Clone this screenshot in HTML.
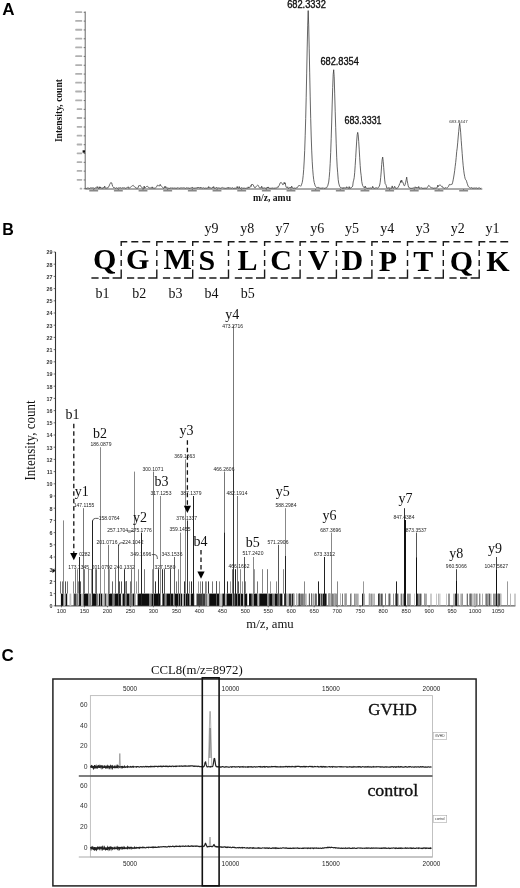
<!DOCTYPE html>
<html><head><meta charset="utf-8"><style>
html,body{margin:0;padding:0;background:#fff;width:520px;height:888px;overflow:hidden}
svg{display:block;filter:grayscale(100%)}
</style></head><body>
<svg width="520" height="888" viewBox="0 0 520 888">
<rect width="520" height="888" fill="#fff"/>
<text x="2.30" y="15.30" font-family="Liberation Sans" font-size="17" text-anchor="start" fill="#000" font-weight="bold" >A</text>
<line x1="85.20" y1="11.50" x2="85.20" y2="189.00" stroke="#666" stroke-width="1.0" />
<line x1="85.20" y1="189.00" x2="482.30" y2="189.00" stroke="#444" stroke-width="0.9" />
<line x1="83.70" y1="12.30" x2="85.20" y2="12.30" stroke="#555" stroke-width="0.8" />
<rect x="75.20" y="11.20" width="7.0" height="1.8" rx="0.6" fill="#b0b0b0"/>
<line x1="83.70" y1="21.12" x2="85.20" y2="21.12" stroke="#555" stroke-width="0.8" />
<rect x="75.20" y="20.02" width="7.0" height="1.8" rx="0.6" fill="#b0b0b0"/>
<line x1="83.70" y1="29.95" x2="85.20" y2="29.95" stroke="#555" stroke-width="0.8" />
<rect x="75.20" y="28.85" width="7.0" height="1.8" rx="0.6" fill="#b0b0b0"/>
<line x1="83.70" y1="38.78" x2="85.20" y2="38.78" stroke="#555" stroke-width="0.8" />
<rect x="75.20" y="37.68" width="7.0" height="1.8" rx="0.6" fill="#b0b0b0"/>
<line x1="83.70" y1="47.60" x2="85.20" y2="47.60" stroke="#555" stroke-width="0.8" />
<rect x="75.20" y="46.50" width="7.0" height="1.8" rx="0.6" fill="#b0b0b0"/>
<line x1="83.70" y1="56.42" x2="85.20" y2="56.42" stroke="#555" stroke-width="0.8" />
<rect x="75.20" y="55.32" width="7.0" height="1.8" rx="0.6" fill="#b0b0b0"/>
<line x1="83.70" y1="65.25" x2="85.20" y2="65.25" stroke="#555" stroke-width="0.8" />
<rect x="75.20" y="64.15" width="7.0" height="1.8" rx="0.6" fill="#b0b0b0"/>
<line x1="83.70" y1="74.08" x2="85.20" y2="74.08" stroke="#555" stroke-width="0.8" />
<rect x="75.20" y="72.98" width="7.0" height="1.8" rx="0.6" fill="#b0b0b0"/>
<line x1="83.70" y1="82.90" x2="85.20" y2="82.90" stroke="#555" stroke-width="0.8" />
<rect x="75.20" y="81.80" width="7.0" height="1.8" rx="0.6" fill="#b0b0b0"/>
<line x1="83.70" y1="91.72" x2="85.20" y2="91.72" stroke="#555" stroke-width="0.8" />
<rect x="75.20" y="90.62" width="7.0" height="1.8" rx="0.6" fill="#b0b0b0"/>
<line x1="83.70" y1="100.55" x2="85.20" y2="100.55" stroke="#555" stroke-width="0.8" />
<rect x="75.20" y="99.45" width="7.0" height="1.8" rx="0.6" fill="#b0b0b0"/>
<line x1="83.70" y1="109.38" x2="85.20" y2="109.38" stroke="#555" stroke-width="0.8" />
<rect x="76.70" y="108.28" width="5.5" height="1.8" rx="0.6" fill="#b0b0b0"/>
<line x1="83.70" y1="118.20" x2="85.20" y2="118.20" stroke="#555" stroke-width="0.8" />
<rect x="76.70" y="117.10" width="5.5" height="1.8" rx="0.6" fill="#b0b0b0"/>
<line x1="83.70" y1="127.02" x2="85.20" y2="127.02" stroke="#555" stroke-width="0.8" />
<rect x="76.70" y="125.92" width="5.5" height="1.8" rx="0.6" fill="#b0b0b0"/>
<line x1="83.70" y1="135.85" x2="85.20" y2="135.85" stroke="#555" stroke-width="0.8" />
<rect x="76.70" y="134.75" width="5.5" height="1.8" rx="0.6" fill="#b0b0b0"/>
<line x1="83.70" y1="144.68" x2="85.20" y2="144.68" stroke="#555" stroke-width="0.8" />
<rect x="76.70" y="143.58" width="5.5" height="1.8" rx="0.6" fill="#b0b0b0"/>
<line x1="83.70" y1="153.50" x2="85.20" y2="153.50" stroke="#555" stroke-width="0.8" />
<rect x="76.70" y="152.40" width="5.5" height="1.8" rx="0.6" fill="#b0b0b0"/>
<line x1="83.70" y1="162.33" x2="85.20" y2="162.33" stroke="#555" stroke-width="0.8" />
<rect x="76.70" y="161.23" width="5.5" height="1.8" rx="0.6" fill="#b0b0b0"/>
<line x1="83.70" y1="171.15" x2="85.20" y2="171.15" stroke="#555" stroke-width="0.8" />
<rect x="76.70" y="170.05" width="5.5" height="1.8" rx="0.6" fill="#b0b0b0"/>
<line x1="83.70" y1="179.98" x2="85.20" y2="179.98" stroke="#555" stroke-width="0.8" />
<rect x="76.70" y="178.88" width="5.5" height="1.8" rx="0.6" fill="#b0b0b0"/>
<line x1="83.70" y1="188.80" x2="85.20" y2="188.80" stroke="#555" stroke-width="0.8" />
<rect x="79.70" y="187.70" width="2.5" height="1.8" rx="0.6" fill="#b0b0b0"/>
<line x1="93.70" y1="189.00" x2="93.70" y2="190.20" stroke="#444" stroke-width="0.6" />
<rect x="89.20" y="190.00" width="9" height="1.6" rx="0.5" fill="#888"/>
<line x1="118.36" y1="189.00" x2="118.36" y2="190.20" stroke="#444" stroke-width="0.6" />
<rect x="113.86" y="190.00" width="9" height="1.6" rx="0.5" fill="#888"/>
<line x1="143.02" y1="189.00" x2="143.02" y2="190.20" stroke="#444" stroke-width="0.6" />
<rect x="138.52" y="190.00" width="9" height="1.6" rx="0.5" fill="#888"/>
<line x1="167.68" y1="189.00" x2="167.68" y2="190.20" stroke="#444" stroke-width="0.6" />
<rect x="163.18" y="190.00" width="9" height="1.6" rx="0.5" fill="#888"/>
<line x1="192.34" y1="189.00" x2="192.34" y2="190.20" stroke="#444" stroke-width="0.6" />
<rect x="187.84" y="190.00" width="9" height="1.6" rx="0.5" fill="#888"/>
<line x1="217.00" y1="189.00" x2="217.00" y2="190.20" stroke="#444" stroke-width="0.6" />
<rect x="212.50" y="190.00" width="9" height="1.6" rx="0.5" fill="#888"/>
<line x1="241.66" y1="189.00" x2="241.66" y2="190.20" stroke="#444" stroke-width="0.6" />
<rect x="237.16" y="190.00" width="9" height="1.6" rx="0.5" fill="#888"/>
<line x1="266.32" y1="189.00" x2="266.32" y2="190.20" stroke="#444" stroke-width="0.6" />
<rect x="261.82" y="190.00" width="9" height="1.6" rx="0.5" fill="#888"/>
<line x1="290.98" y1="189.00" x2="290.98" y2="190.20" stroke="#444" stroke-width="0.6" />
<rect x="286.48" y="190.00" width="9" height="1.6" rx="0.5" fill="#888"/>
<line x1="315.64" y1="189.00" x2="315.64" y2="190.20" stroke="#444" stroke-width="0.6" />
<rect x="311.14" y="190.00" width="9" height="1.6" rx="0.5" fill="#888"/>
<line x1="340.30" y1="189.00" x2="340.30" y2="190.20" stroke="#444" stroke-width="0.6" />
<rect x="335.80" y="190.00" width="9" height="1.6" rx="0.5" fill="#888"/>
<line x1="364.96" y1="189.00" x2="364.96" y2="190.20" stroke="#444" stroke-width="0.6" />
<rect x="360.46" y="190.00" width="9" height="1.6" rx="0.5" fill="#888"/>
<line x1="389.62" y1="189.00" x2="389.62" y2="190.20" stroke="#444" stroke-width="0.6" />
<rect x="385.12" y="190.00" width="9" height="1.6" rx="0.5" fill="#888"/>
<line x1="414.28" y1="189.00" x2="414.28" y2="190.20" stroke="#444" stroke-width="0.6" />
<rect x="409.78" y="190.00" width="9" height="1.6" rx="0.5" fill="#888"/>
<line x1="438.94" y1="189.00" x2="438.94" y2="190.20" stroke="#444" stroke-width="0.6" />
<rect x="434.44" y="190.00" width="9" height="1.6" rx="0.5" fill="#888"/>
<line x1="463.60" y1="189.00" x2="463.60" y2="190.20" stroke="#444" stroke-width="0.6" />
<rect x="459.10" y="190.00" width="9" height="1.6" rx="0.5" fill="#888"/>
<rect x="82.6" y="150.3" width="2.4" height="2.4" fill="#111"/>
<text x="0" y="0" transform="translate(62.0,110.6) rotate(-90)" font-family="Liberation Serif" font-size="10.3" font-weight="bold" text-anchor="middle" fill="#111" textLength="63" lengthAdjust="spacingAndGlyphs">Intensity, count</text>
<text x="272.00" y="201.00" font-family="Liberation Serif" font-size="11" text-anchor="middle" fill="#111" font-weight="bold" textLength="38" lengthAdjust="spacingAndGlyphs" >m/z, amu</text>
<path d="M85.70,188.17 L86.20,188.35 L86.70,188.36 L87.20,187.92 L87.70,188.10 L88.20,188.24 L88.70,188.00 L89.20,188.37 L89.70,188.30 L90.20,187.83 L90.70,187.95 L91.20,187.94 L91.70,187.92 L92.20,187.99 L92.70,187.84 L93.20,188.00 L93.70,187.89 L94.20,188.32 L94.70,188.29 L95.20,187.93 L95.70,187.79 L96.20,187.98 L96.70,187.81 L97.20,186.53 L97.70,187.95 L98.20,188.20 L98.70,188.38 L99.20,186.78 L99.70,188.31 L100.20,186.89 L100.70,188.02 L101.20,187.80 L101.70,188.15 L102.20,188.29 L102.70,188.24 L103.20,187.38 L103.70,188.14 L104.20,187.92 L104.70,186.13 L105.20,187.85 L105.70,188.12 L106.20,187.81 L106.70,188.22 L107.20,187.95 L107.70,188.03 L108.20,187.08 L108.70,186.81 L109.20,185.88 L109.70,184.44 L110.20,183.65 L110.70,182.64 L111.20,182.77 L111.70,182.87 L112.20,184.80 L112.70,186.43 L113.20,186.91 L113.70,187.74 L114.20,187.54 L114.70,187.77 L115.20,188.02 L115.70,188.38 L116.20,187.91 L116.70,187.74 L117.20,188.14 L117.70,188.26 L118.20,187.77 L118.70,187.94 L119.20,187.94 L119.70,187.87 L120.20,187.85 L120.70,187.72 L121.20,187.74 L121.70,188.31 L122.20,187.84 L122.70,187.71 L123.20,188.02 L123.70,187.72 L124.20,187.75 L124.70,187.82 L125.20,188.19 L125.70,188.22 L126.20,187.76 L126.70,187.99 L127.20,187.76 L127.70,187.15 L128.20,186.66 L128.70,188.24 L129.20,187.91 L129.70,187.79 L130.20,187.57 L130.70,187.09 L131.20,186.65 L131.70,186.25 L132.20,185.75 L132.70,185.61 L133.20,185.31 L133.70,185.77 L134.20,186.49 L134.70,187.03 L135.20,187.08 L135.70,187.80 L136.20,188.04 L136.70,188.12 L137.20,187.96 L137.70,188.09 L138.20,187.66 L138.70,185.71 L139.20,185.61 L139.70,185.57 L140.20,185.26 L140.70,186.37 L141.20,186.64 L141.70,187.52 L142.20,188.00 L142.70,187.94 L143.20,188.34 L143.70,188.34 L144.20,186.09 L144.70,188.21 L145.20,187.77 L145.70,187.35 L146.20,186.78 L146.70,186.45 L147.20,186.23 L147.70,186.48 L148.20,187.41 L148.70,187.42 L149.20,187.89 L149.70,187.77 L150.20,187.80 L150.70,187.92 L151.20,187.82 L151.70,188.12 L152.20,186.83 L152.70,188.22 L153.20,187.81 L153.70,188.20 L154.20,188.06 L154.70,188.16 L155.20,187.85 L155.70,187.79 L156.20,187.32 L156.70,186.87 L157.20,185.41 L157.70,185.33 L158.20,185.73 L158.70,185.62 L159.20,185.87 L159.70,185.94 L160.20,184.36 L160.70,185.66 L161.20,185.80 L161.70,186.46 L162.20,186.84 L162.70,187.45 L163.20,188.20 L163.70,188.27 L164.20,187.95 L164.70,186.46 L165.20,187.88 L165.70,186.46 L166.20,187.69 L166.70,187.89 L167.20,187.72 L167.70,188.06 L168.20,187.97 L168.70,188.30 L169.20,188.19 L169.70,188.36 L170.20,187.92 L170.70,188.04 L171.20,188.32 L171.70,187.72 L172.20,188.08 L172.70,188.09 L173.20,187.74 L173.70,188.30 L174.20,188.31 L174.70,187.78 L175.20,187.77 L175.70,188.40 L176.20,188.19 L176.70,188.18 L177.20,187.87 L177.70,187.75 L178.20,188.20 L178.70,187.70 L179.20,188.10 L179.70,188.33 L180.20,187.75 L180.70,188.04 L181.20,187.73 L181.70,187.96 L182.20,188.02 L182.70,187.89 L183.20,187.95 L183.70,187.75 L184.20,188.16 L184.70,187.72 L185.20,188.19 L185.70,188.28 L186.20,187.77 L186.70,187.77 L187.20,188.30 L187.70,187.68 L188.20,188.22 L188.70,187.88 L189.20,188.03 L189.70,188.36 L190.20,188.31 L190.70,187.80 L191.20,188.23 L191.70,187.73 L192.20,186.97 L192.70,187.77 L193.20,188.40 L193.70,187.82 L194.20,188.23 L194.70,188.03 L195.20,187.89 L195.70,188.08 L196.20,187.85 L196.70,187.95 L197.20,188.22 L197.70,187.27 L198.20,187.99 L198.70,187.38 L199.20,188.08 L199.70,187.78 L200.20,188.23 L200.70,187.19 L201.20,187.93 L201.70,187.93 L202.20,188.38 L202.70,187.92 L203.20,187.88 L203.70,187.72 L204.20,188.24 L204.70,188.19 L205.20,188.27 L205.70,187.93 L206.20,188.12 L206.70,188.18 L207.20,188.12 L207.70,187.89 L208.20,188.17 L208.70,186.55 L209.20,188.13 L209.70,187.72 L210.20,188.15 L210.70,187.73 L211.20,187.82 L211.70,188.37 L212.20,187.76 L212.70,186.95 L213.20,187.83 L213.70,186.54 L214.20,188.22 L214.70,188.16 L215.20,187.97 L215.70,188.18 L216.20,187.87 L216.70,187.27 L217.20,188.07 L217.70,188.13 L218.20,188.05 L218.70,187.84 L219.20,187.86 L219.70,188.18 L220.20,188.34 L220.70,188.16 L221.20,188.01 L221.70,187.78 L222.20,187.34 L222.70,187.90 L223.20,188.11 L223.70,187.88 L224.20,188.32 L224.70,188.00 L225.20,188.26 L225.70,188.29 L226.20,188.17 L226.70,188.04 L227.20,187.94 L227.70,188.07 L228.20,187.17 L228.70,188.32 L229.20,187.99 L229.70,187.79 L230.20,187.86 L230.70,187.98 L231.20,188.14 L231.70,188.22 L232.20,187.60 L232.70,187.93 L233.20,188.26 L233.70,188.36 L234.20,188.01 L234.70,188.29 L235.20,188.20 L235.70,188.18 L236.20,188.11 L236.70,188.15 L237.20,186.45 L237.70,188.10 L238.20,187.78 L238.70,188.39 L239.20,186.52 L239.70,188.14 L240.20,188.20 L240.70,188.32 L241.20,187.72 L241.70,187.74 L242.20,188.36 L242.70,187.77 L243.20,188.29 L243.70,188.12 L244.20,188.27 L244.70,188.04 L245.20,188.23 L245.70,188.37 L246.20,188.37 L246.70,187.98 L247.20,188.19 L247.70,188.10 L248.20,186.85 L248.70,188.03 L249.20,187.77 L249.70,187.84 L250.20,186.66 L250.70,185.63 L251.20,186.40 L251.70,184.23 L252.20,184.74 L252.70,184.35 L253.20,184.88 L253.70,185.93 L254.20,186.99 L254.70,187.64 L255.20,187.80 L255.70,187.14 L256.20,186.44 L256.70,185.86 L257.20,185.40 L257.70,184.98 L258.20,185.50 L258.70,186.49 L259.20,187.30 L259.70,188.06 L260.20,188.05 L260.70,187.69 L261.20,187.86 L261.70,186.24 L262.20,188.22 L262.70,187.99 L263.20,188.10 L263.70,187.97 L264.20,187.77 L264.70,187.94 L265.20,188.15 L265.70,188.24 L266.20,188.26 L266.70,188.31 L267.20,187.02 L267.70,187.79 L268.20,186.93 L268.70,188.01 L269.20,188.09 L269.70,188.23 L270.20,188.03 L270.70,188.36 L271.20,188.01 L271.70,188.26 L272.20,187.95 L272.70,188.18 L273.20,187.78 L273.70,188.40 L274.20,188.07 L274.70,188.24 L275.20,188.37 L275.70,187.90 L276.20,188.18 L276.70,187.76 L277.20,187.73 L277.70,186.77 L278.20,187.27 L278.70,186.18 L279.20,185.49 L279.70,184.18 L280.20,182.94 L280.70,182.52 L281.20,182.42 L281.70,183.24 L282.20,183.48 L282.70,184.64 L283.20,184.62 L283.70,183.92 L284.20,182.31 L284.70,183.96 L285.20,182.80 L285.70,185.77 L286.20,187.30 L286.70,187.45 L287.20,187.72 L287.70,186.79 L288.20,188.25 L288.70,188.38 L289.20,187.90 L289.70,187.73 L290.20,187.14 L290.70,188.09 L291.20,187.91 L291.70,186.16 L292.20,187.88 L292.70,187.87 L293.20,188.06 L293.70,188.27 L294.20,187.82 L294.70,188.20 L295.20,188.05 L295.70,188.33 L296.20,187.79 L296.70,187.92 L297.20,187.81 L297.70,187.12 L298.20,186.13 L298.70,185.67 L299.20,185.12 L299.70,185.68 L300.20,185.74 L300.70,186.29 L301.20,185.52 L301.70,184.15 L302.20,182.62 L302.70,179.81 L303.20,175.46 L303.70,169.48 L304.20,160.99 L304.70,150.45 L305.20,135.75 L305.70,118.43 L306.20,97.23 L306.70,73.13 L307.20,47.98 L307.70,25.18 L308.20,10.58 L308.70,24.87 L309.20,48.17 L309.70,72.87 L310.20,96.90 L310.70,118.34 L311.20,136.01 L311.70,150.08 L312.20,161.18 L312.70,169.24 L313.20,175.23 L313.70,179.58 L314.20,182.47 L314.70,184.17 L315.20,185.74 L315.70,186.64 L316.20,187.18 L316.70,187.74 L317.20,187.56 L317.70,187.42 L318.20,187.18 L318.70,188.05 L319.20,188.18 L319.70,187.72 L320.20,187.83 L320.70,188.30 L321.20,187.95 L321.70,188.24 L322.20,187.95 L322.70,188.07 L323.20,188.31 L323.70,187.80 L324.20,188.21 L324.70,188.36 L325.20,188.15 L325.70,187.94 L326.20,187.83 L326.70,187.75 L327.20,186.70 L327.70,185.84 L328.20,184.05 L328.70,182.08 L329.20,177.63 L329.70,171.65 L330.20,163.35 L330.70,152.40 L331.20,138.29 L331.70,122.06 L332.20,104.07 L332.70,87.52 L333.20,74.40 L333.70,69.72 L334.20,76.77 L334.70,93.90 L335.20,111.24 L335.70,127.30 L336.20,143.14 L336.70,157.19 L337.20,166.93 L337.70,172.83 L338.20,179.52 L338.70,183.06 L339.20,184.91 L339.70,186.45 L340.20,187.30 L340.70,187.58 L341.20,187.48 L341.70,188.05 L342.20,187.93 L342.70,188.35 L343.20,187.41 L343.70,188.39 L344.20,187.97 L344.70,187.76 L345.20,187.96 L345.70,187.92 L346.20,188.08 L346.70,186.72 L347.20,187.76 L347.70,187.82 L348.20,188.22 L348.70,188.17 L349.20,186.60 L349.70,188.34 L350.20,187.92 L350.70,188.22 L351.20,187.40 L351.70,187.43 L352.20,186.96 L352.70,186.05 L353.20,181.93 L353.70,180.18 L354.20,177.71 L354.70,172.60 L355.20,165.35 L355.70,157.62 L356.20,148.93 L356.70,141.03 L357.20,134.88 L357.70,132.38 L358.20,134.73 L358.70,141.30 L359.20,149.11 L359.70,157.81 L360.20,165.66 L360.70,171.98 L361.20,175.73 L361.70,181.22 L362.20,183.92 L362.70,185.64 L363.20,186.48 L363.70,187.29 L364.20,187.33 L364.70,187.94 L365.20,186.03 L365.70,187.80 L366.20,188.19 L366.70,187.91 L367.20,188.34 L367.70,188.26 L368.20,188.24 L368.70,188.07 L369.20,187.87 L369.70,188.34 L370.20,188.24 L370.70,187.78 L371.20,187.99 L371.70,188.27 L372.20,188.00 L372.70,186.30 L373.20,188.14 L373.70,187.85 L374.20,188.16 L374.70,188.38 L375.20,188.06 L375.70,187.85 L376.20,187.86 L376.70,187.81 L377.20,188.15 L377.70,187.94 L378.20,187.53 L378.70,187.42 L379.20,186.38 L379.70,185.01 L380.20,182.32 L380.70,177.40 L381.20,171.94 L381.70,164.49 L382.20,159.36 L382.70,157.12 L383.20,161.30 L383.70,167.38 L384.20,174.04 L384.70,179.91 L385.20,183.80 L385.70,184.31 L386.20,185.45 L386.70,187.86 L387.20,187.64 L387.70,188.29 L388.20,187.95 L388.70,187.82 L389.20,188.30 L389.70,187.90 L390.20,187.79 L390.70,188.29 L391.20,188.17 L391.70,188.18 L392.20,185.92 L392.70,187.93 L393.20,188.20 L393.70,188.15 L394.20,187.17 L394.70,186.32 L395.20,188.19 L395.70,187.83 L396.20,188.39 L396.70,188.23 L397.20,188.10 L397.70,187.88 L398.20,187.16 L398.70,186.14 L399.20,185.21 L399.70,183.55 L400.20,183.18 L400.70,180.68 L401.20,182.38 L401.70,180.12 L402.20,181.59 L402.70,181.97 L403.20,183.08 L403.70,184.81 L404.20,185.72 L404.70,185.60 L405.20,184.28 L405.70,182.29 L406.20,179.73 L406.70,177.13 L407.20,180.73 L407.70,183.31 L408.20,185.83 L408.70,187.40 L409.20,187.73 L409.70,187.72 L410.20,188.30 L410.70,188.20 L411.20,188.30 L411.70,188.30 L412.20,188.28 L412.70,188.13 L413.20,188.03 L413.70,187.86 L414.20,188.17 L414.70,187.84 L415.20,186.77 L415.70,187.73 L416.20,188.10 L416.70,187.16 L417.20,187.77 L417.70,187.72 L418.20,187.96 L418.70,186.50 L419.20,188.21 L419.70,188.02 L420.20,188.22 L420.70,187.73 L421.20,187.95 L421.70,187.73 L422.20,188.07 L422.70,188.31 L423.20,188.12 L423.70,188.34 L424.20,187.97 L424.70,188.26 L425.20,188.01 L425.70,188.17 L426.20,187.99 L426.70,188.21 L427.20,187.74 L427.70,187.13 L428.20,186.04 L428.70,185.40 L429.20,185.68 L429.70,186.37 L430.20,186.67 L430.70,187.56 L431.20,187.58 L431.70,187.82 L432.20,188.05 L432.70,187.76 L433.20,188.40 L433.70,188.05 L434.20,188.11 L434.70,187.97 L435.20,188.06 L435.70,188.08 L436.20,188.05 L436.70,187.78 L437.20,187.66 L437.70,185.23 L438.20,186.71 L438.70,185.67 L439.20,185.07 L439.70,185.06 L440.20,184.89 L440.70,185.35 L441.20,185.95 L441.70,186.58 L442.20,186.26 L442.70,187.52 L443.20,187.47 L443.70,187.95 L444.20,188.10 L444.70,188.25 L445.20,187.80 L445.70,187.75 L446.20,187.66 L446.70,188.18 L447.20,187.79 L447.70,187.39 L448.20,186.60 L448.70,186.24 L449.20,184.60 L449.70,184.45 L450.20,184.60 L450.70,184.61 L451.20,184.23 L451.70,184.69 L452.20,183.97 L452.70,182.23 L453.20,179.83 L453.70,177.05 L454.20,173.98 L454.70,170.42 L455.20,166.28 L455.70,162.38 L456.20,157.50 L456.70,151.63 L457.20,148.17 L457.70,142.83 L458.20,136.97 L458.70,131.65 L459.20,126.47 L459.70,123.26 L460.20,127.28 L460.70,132.81 L461.20,140.32 L461.70,146.90 L462.20,153.57 L462.70,160.16 L463.20,165.70 L463.70,170.24 L464.20,173.93 L464.70,176.65 L465.20,178.74 L465.70,179.76 L466.20,180.26 L466.70,181.77 L467.20,183.42 L467.70,184.92 L468.20,186.30 L468.70,186.90 L469.20,187.17 L469.70,187.56 L470.20,188.05 L470.70,187.98 L471.20,187.88 L471.70,187.48 L472.20,188.18 L472.70,188.17 L473.20,187.83 L473.70,188.29 L474.20,187.91 L474.70,188.10 L475.20,188.22 L475.70,187.96 L476.20,187.76 L476.70,188.05 L477.20,188.26 L477.70,188.37 L478.20,188.27 L478.70,187.90 L479.20,187.92 L479.70,187.82 L480.20,188.37 L480.70,188.37 L481.20,187.85" fill="none" stroke="#333" stroke-width="0.75" stroke-linejoin="round"/>
<text x="306.50" y="7.60" font-family="Liberation Sans" font-size="10" text-anchor="middle" fill="#111" textLength="38.7" lengthAdjust="spacingAndGlyphs" stroke="#111" stroke-width="0.35">682.3332</text>
<text x="339.60" y="64.60" font-family="Liberation Sans" font-size="10" text-anchor="middle" fill="#111" textLength="38.4" lengthAdjust="spacingAndGlyphs" stroke="#111" stroke-width="0.35">682.8354</text>
<text x="363.00" y="123.50" font-family="Liberation Sans" font-size="10" text-anchor="middle" fill="#111" textLength="37" lengthAdjust="spacingAndGlyphs" stroke="#111" stroke-width="0.35">683.3331</text>
<text x="458.40" y="123.00" font-family="Liberation Sans" font-size="3.2" text-anchor="middle" fill="#333" textLength="18.5" lengthAdjust="spacingAndGlyphs" >683.8447</text>
<text x="2.30" y="234.60" font-family="Liberation Sans" font-size="16" text-anchor="start" fill="#000" font-weight="bold" >B</text>
<path d="M91.40,278.0 L121.20,278.0 L121.20,241.8 L150.20,241.8" fill="none" stroke="#1a1a1a" stroke-width="1.4" stroke-dasharray="7.2,3.4,7.2,3.4,17.1,3.5,6,4,6,4,10.3,4,7,4,8,100"/>
<path d="M127.00,278.0 L156.80,278.0 L156.80,241.8 L185.80,241.8" fill="none" stroke="#1a1a1a" stroke-width="1.4" stroke-dasharray="7.2,3.4,7.2,3.4,17.1,3.5,6,4,6,4,10.3,4,7,4,8,100"/>
<path d="M162.90,278.0 L192.70,278.0 L192.70,241.8 L221.70,241.8" fill="none" stroke="#1a1a1a" stroke-width="1.4" stroke-dasharray="7.2,3.4,7.2,3.4,17.1,3.5,6,4,6,4,10.3,4,7,4,8,100"/>
<path d="M198.70,278.0 L228.50,278.0 L228.50,241.8 L257.50,241.8" fill="none" stroke="#1a1a1a" stroke-width="1.4" stroke-dasharray="7.2,3.4,7.2,3.4,17.1,3.5,6,4,6,4,10.3,4,7,4,8,100"/>
<path d="M234.80,278.0 L264.60,278.0 L264.60,241.8 L293.60,241.8" fill="none" stroke="#1a1a1a" stroke-width="1.4" stroke-dasharray="7.2,3.4,7.2,3.4,17.1,3.5,6,4,6,4,10.3,4,7,4,8,100"/>
<path d="M270.30,278.0 L300.10,278.0 L300.10,241.8 L329.10,241.8" fill="none" stroke="#1a1a1a" stroke-width="1.4" stroke-dasharray="7.2,3.4,7.2,3.4,17.1,3.5,6,4,6,4,10.3,4,7,4,8,100"/>
<path d="M306.60,278.0 L336.40,278.0 L336.40,241.8 L365.40,241.8" fill="none" stroke="#1a1a1a" stroke-width="1.4" stroke-dasharray="7.2,3.4,7.2,3.4,17.1,3.5,6,4,6,4,10.3,4,7,4,8,100"/>
<path d="M342.10,278.0 L371.90,278.0 L371.90,241.8 L400.90,241.8" fill="none" stroke="#1a1a1a" stroke-width="1.4" stroke-dasharray="7.2,3.4,7.2,3.4,17.1,3.5,6,4,6,4,10.3,4,7,4,8,100"/>
<path d="M377.70,278.0 L407.50,278.0 L407.50,241.8 L436.50,241.8" fill="none" stroke="#1a1a1a" stroke-width="1.4" stroke-dasharray="7.2,3.4,7.2,3.4,17.1,3.5,6,4,6,4,10.3,4,7,4,8,100"/>
<path d="M413.50,278.0 L443.30,278.0 L443.30,241.8 L472.30,241.8" fill="none" stroke="#1a1a1a" stroke-width="1.4" stroke-dasharray="7.2,3.4,7.2,3.4,17.1,3.5,6,4,6,4,10.3,4,7,4,8,100"/>
<path d="M449.40,278.0 L479.20,278.0 L479.20,241.8 L508.20,241.8" fill="none" stroke="#1a1a1a" stroke-width="1.4" stroke-dasharray="7.2,3.4,7.2,3.4,17.1,3.5,6,4,6,4,10.3,4,7,4,8,100"/>
<text x="104.70" y="268.90" font-family="Liberation Serif" font-size="30" text-anchor="middle" fill="#000" font-weight="bold" >Q</text>
<text x="137.70" y="269.10" font-family="Liberation Serif" font-size="30" text-anchor="middle" fill="#000" font-weight="bold" >G</text>
<text x="177.70" y="269.30" font-family="Liberation Serif" font-size="30" text-anchor="middle" fill="#000" font-weight="bold" >M</text>
<text x="206.90" y="269.50" font-family="Liberation Serif" font-size="30" text-anchor="middle" fill="#000" font-weight="bold" >S</text>
<text x="247.60" y="269.70" font-family="Liberation Serif" font-size="30" text-anchor="middle" fill="#000" font-weight="bold" >L</text>
<text x="281.20" y="269.90" font-family="Liberation Serif" font-size="30" text-anchor="middle" fill="#000" font-weight="bold" >C</text>
<text x="318.60" y="270.10" font-family="Liberation Serif" font-size="30" text-anchor="middle" fill="#000" font-weight="bold" >V</text>
<text x="352.30" y="270.30" font-family="Liberation Serif" font-size="30" text-anchor="middle" fill="#000" font-weight="bold" >D</text>
<text x="387.90" y="270.50" font-family="Liberation Serif" font-size="30" text-anchor="middle" fill="#000" font-weight="bold" >P</text>
<text x="423.30" y="270.70" font-family="Liberation Serif" font-size="30" text-anchor="middle" fill="#000" font-weight="bold" >T</text>
<text x="461.30" y="270.90" font-family="Liberation Serif" font-size="30" text-anchor="middle" fill="#000" font-weight="bold" >Q</text>
<text x="497.80" y="271.10" font-family="Liberation Serif" font-size="30" text-anchor="middle" fill="#000" font-weight="bold" >K</text>
<text x="211.40" y="232.60" font-family="Liberation Serif" font-size="14" text-anchor="middle" fill="#111" >y9</text>
<text x="247.30" y="232.60" font-family="Liberation Serif" font-size="14" text-anchor="middle" fill="#111" >y8</text>
<text x="282.50" y="232.60" font-family="Liberation Serif" font-size="14" text-anchor="middle" fill="#111" >y7</text>
<text x="317.30" y="232.60" font-family="Liberation Serif" font-size="14" text-anchor="middle" fill="#111" >y6</text>
<text x="352.00" y="232.60" font-family="Liberation Serif" font-size="14" text-anchor="middle" fill="#111" >y5</text>
<text x="387.20" y="232.60" font-family="Liberation Serif" font-size="14" text-anchor="middle" fill="#111" >y4</text>
<text x="422.80" y="232.60" font-family="Liberation Serif" font-size="14" text-anchor="middle" fill="#111" >y3</text>
<text x="457.70" y="232.60" font-family="Liberation Serif" font-size="14" text-anchor="middle" fill="#111" >y2</text>
<text x="492.60" y="232.60" font-family="Liberation Serif" font-size="14" text-anchor="middle" fill="#111" >y1</text>
<text x="102.60" y="297.80" font-family="Liberation Serif" font-size="14" text-anchor="middle" fill="#111" >b1</text>
<text x="139.30" y="297.80" font-family="Liberation Serif" font-size="14" text-anchor="middle" fill="#111" >b2</text>
<text x="175.40" y="297.80" font-family="Liberation Serif" font-size="14" text-anchor="middle" fill="#111" >b3</text>
<text x="211.40" y="297.80" font-family="Liberation Serif" font-size="14" text-anchor="middle" fill="#111" >b4</text>
<text x="247.70" y="297.80" font-family="Liberation Serif" font-size="14" text-anchor="middle" fill="#111" >b5</text>
<line x1="55.50" y1="252.00" x2="55.50" y2="606.30" stroke="#333" stroke-width="1.1" />
<line x1="55.50" y1="605.90" x2="515.40" y2="605.90" stroke="#333" stroke-width="1.0" />
<line x1="53.70" y1="605.80" x2="55.50" y2="605.80" stroke="#333" stroke-width="0.7" />
<text x="52.40" y="608.10" font-family="Liberation Sans" font-size="5.4" text-anchor="end" fill="#333" font-weight="bold" >0</text>
<line x1="53.70" y1="593.60" x2="55.50" y2="593.60" stroke="#333" stroke-width="0.7" />
<text x="52.40" y="595.90" font-family="Liberation Sans" font-size="5.4" text-anchor="end" fill="#333" font-weight="bold" >1</text>
<line x1="53.70" y1="581.40" x2="55.50" y2="581.40" stroke="#333" stroke-width="0.7" />
<text x="52.40" y="583.70" font-family="Liberation Sans" font-size="5.4" text-anchor="end" fill="#333" font-weight="bold" >2</text>
<line x1="53.70" y1="569.20" x2="55.50" y2="569.20" stroke="#333" stroke-width="0.7" />
<text x="52.40" y="571.50" font-family="Liberation Sans" font-size="5.4" text-anchor="end" fill="#333" font-weight="bold" >3</text>
<line x1="53.70" y1="557.00" x2="55.50" y2="557.00" stroke="#333" stroke-width="0.7" />
<text x="52.40" y="559.30" font-family="Liberation Sans" font-size="5.4" text-anchor="end" fill="#333" font-weight="bold" >4</text>
<line x1="53.70" y1="544.80" x2="55.50" y2="544.80" stroke="#333" stroke-width="0.7" />
<text x="52.40" y="547.10" font-family="Liberation Sans" font-size="5.4" text-anchor="end" fill="#333" font-weight="bold" >5</text>
<line x1="53.70" y1="532.60" x2="55.50" y2="532.60" stroke="#333" stroke-width="0.7" />
<text x="52.40" y="534.90" font-family="Liberation Sans" font-size="5.4" text-anchor="end" fill="#333" font-weight="bold" >6</text>
<line x1="53.70" y1="520.40" x2="55.50" y2="520.40" stroke="#333" stroke-width="0.7" />
<text x="52.40" y="522.70" font-family="Liberation Sans" font-size="5.4" text-anchor="end" fill="#333" font-weight="bold" >7</text>
<line x1="53.70" y1="508.20" x2="55.50" y2="508.20" stroke="#333" stroke-width="0.7" />
<text x="52.40" y="510.50" font-family="Liberation Sans" font-size="5.4" text-anchor="end" fill="#333" font-weight="bold" >8</text>
<line x1="53.70" y1="496.00" x2="55.50" y2="496.00" stroke="#333" stroke-width="0.7" />
<text x="52.40" y="498.30" font-family="Liberation Sans" font-size="5.4" text-anchor="end" fill="#333" font-weight="bold" >9</text>
<line x1="53.70" y1="483.80" x2="55.50" y2="483.80" stroke="#333" stroke-width="0.7" />
<text x="52.40" y="486.10" font-family="Liberation Sans" font-size="5.4" text-anchor="end" fill="#333" font-weight="bold" >10</text>
<line x1="53.70" y1="471.60" x2="55.50" y2="471.60" stroke="#333" stroke-width="0.7" />
<text x="52.40" y="473.90" font-family="Liberation Sans" font-size="5.4" text-anchor="end" fill="#333" font-weight="bold" >11</text>
<line x1="53.70" y1="459.40" x2="55.50" y2="459.40" stroke="#333" stroke-width="0.7" />
<text x="52.40" y="461.70" font-family="Liberation Sans" font-size="5.4" text-anchor="end" fill="#333" font-weight="bold" >12</text>
<line x1="53.70" y1="447.20" x2="55.50" y2="447.20" stroke="#333" stroke-width="0.7" />
<text x="52.40" y="449.50" font-family="Liberation Sans" font-size="5.4" text-anchor="end" fill="#333" font-weight="bold" >13</text>
<line x1="53.70" y1="435.00" x2="55.50" y2="435.00" stroke="#333" stroke-width="0.7" />
<text x="52.40" y="437.30" font-family="Liberation Sans" font-size="5.4" text-anchor="end" fill="#333" font-weight="bold" >14</text>
<line x1="53.70" y1="422.80" x2="55.50" y2="422.80" stroke="#333" stroke-width="0.7" />
<text x="52.40" y="425.10" font-family="Liberation Sans" font-size="5.4" text-anchor="end" fill="#333" font-weight="bold" >15</text>
<line x1="53.70" y1="410.60" x2="55.50" y2="410.60" stroke="#333" stroke-width="0.7" />
<text x="52.40" y="412.90" font-family="Liberation Sans" font-size="5.4" text-anchor="end" fill="#333" font-weight="bold" >16</text>
<line x1="53.70" y1="398.40" x2="55.50" y2="398.40" stroke="#333" stroke-width="0.7" />
<text x="52.40" y="400.70" font-family="Liberation Sans" font-size="5.4" text-anchor="end" fill="#333" font-weight="bold" >17</text>
<line x1="53.70" y1="386.20" x2="55.50" y2="386.20" stroke="#333" stroke-width="0.7" />
<text x="52.40" y="388.50" font-family="Liberation Sans" font-size="5.4" text-anchor="end" fill="#333" font-weight="bold" >18</text>
<line x1="53.70" y1="374.00" x2="55.50" y2="374.00" stroke="#333" stroke-width="0.7" />
<text x="52.40" y="376.30" font-family="Liberation Sans" font-size="5.4" text-anchor="end" fill="#333" font-weight="bold" >19</text>
<line x1="53.70" y1="361.80" x2="55.50" y2="361.80" stroke="#333" stroke-width="0.7" />
<text x="52.40" y="364.10" font-family="Liberation Sans" font-size="5.4" text-anchor="end" fill="#333" font-weight="bold" >20</text>
<line x1="53.70" y1="349.60" x2="55.50" y2="349.60" stroke="#333" stroke-width="0.7" />
<text x="52.40" y="351.90" font-family="Liberation Sans" font-size="5.4" text-anchor="end" fill="#333" font-weight="bold" >21</text>
<line x1="53.70" y1="337.40" x2="55.50" y2="337.40" stroke="#333" stroke-width="0.7" />
<text x="52.40" y="339.70" font-family="Liberation Sans" font-size="5.4" text-anchor="end" fill="#333" font-weight="bold" >22</text>
<line x1="53.70" y1="325.20" x2="55.50" y2="325.20" stroke="#333" stroke-width="0.7" />
<text x="52.40" y="327.50" font-family="Liberation Sans" font-size="5.4" text-anchor="end" fill="#333" font-weight="bold" >23</text>
<line x1="53.70" y1="313.00" x2="55.50" y2="313.00" stroke="#333" stroke-width="0.7" />
<text x="52.40" y="315.30" font-family="Liberation Sans" font-size="5.4" text-anchor="end" fill="#333" font-weight="bold" >24</text>
<line x1="53.70" y1="300.80" x2="55.50" y2="300.80" stroke="#333" stroke-width="0.7" />
<text x="52.40" y="303.10" font-family="Liberation Sans" font-size="5.4" text-anchor="end" fill="#333" font-weight="bold" >25</text>
<line x1="53.70" y1="288.60" x2="55.50" y2="288.60" stroke="#333" stroke-width="0.7" />
<text x="52.40" y="290.90" font-family="Liberation Sans" font-size="5.4" text-anchor="end" fill="#333" font-weight="bold" >26</text>
<line x1="53.70" y1="276.40" x2="55.50" y2="276.40" stroke="#333" stroke-width="0.7" />
<text x="52.40" y="278.70" font-family="Liberation Sans" font-size="5.4" text-anchor="end" fill="#333" font-weight="bold" >27</text>
<line x1="53.70" y1="264.20" x2="55.50" y2="264.20" stroke="#333" stroke-width="0.7" />
<text x="52.40" y="266.50" font-family="Liberation Sans" font-size="5.4" text-anchor="end" fill="#333" font-weight="bold" >28</text>
<line x1="53.70" y1="252.00" x2="55.50" y2="252.00" stroke="#333" stroke-width="0.7" />
<text x="52.40" y="254.30" font-family="Liberation Sans" font-size="5.4" text-anchor="end" fill="#333" font-weight="bold" >29</text>
<line x1="61.50" y1="605.80" x2="61.50" y2="607.30" stroke="#333" stroke-width="0.6" />
<text x="61.50" y="612.90" font-family="Liberation Sans" font-size="5.6" text-anchor="middle" fill="#222" >100</text>
<line x1="84.47" y1="605.80" x2="84.47" y2="607.30" stroke="#333" stroke-width="0.6" />
<text x="84.47" y="612.90" font-family="Liberation Sans" font-size="5.6" text-anchor="middle" fill="#222" >150</text>
<line x1="107.45" y1="605.80" x2="107.45" y2="607.30" stroke="#333" stroke-width="0.6" />
<text x="107.45" y="612.90" font-family="Liberation Sans" font-size="5.6" text-anchor="middle" fill="#222" >200</text>
<line x1="130.43" y1="605.80" x2="130.43" y2="607.30" stroke="#333" stroke-width="0.6" />
<text x="130.43" y="612.90" font-family="Liberation Sans" font-size="5.6" text-anchor="middle" fill="#222" >250</text>
<line x1="153.40" y1="605.80" x2="153.40" y2="607.30" stroke="#333" stroke-width="0.6" />
<text x="153.40" y="612.90" font-family="Liberation Sans" font-size="5.6" text-anchor="middle" fill="#222" >300</text>
<line x1="176.38" y1="605.80" x2="176.38" y2="607.30" stroke="#333" stroke-width="0.6" />
<text x="176.38" y="612.90" font-family="Liberation Sans" font-size="5.6" text-anchor="middle" fill="#222" >350</text>
<line x1="199.35" y1="605.80" x2="199.35" y2="607.30" stroke="#333" stroke-width="0.6" />
<text x="199.35" y="612.90" font-family="Liberation Sans" font-size="5.6" text-anchor="middle" fill="#222" >400</text>
<line x1="222.33" y1="605.80" x2="222.33" y2="607.30" stroke="#333" stroke-width="0.6" />
<text x="222.33" y="612.90" font-family="Liberation Sans" font-size="5.6" text-anchor="middle" fill="#222" >450</text>
<line x1="245.30" y1="605.80" x2="245.30" y2="607.30" stroke="#333" stroke-width="0.6" />
<text x="245.30" y="612.90" font-family="Liberation Sans" font-size="5.6" text-anchor="middle" fill="#222" >500</text>
<line x1="268.27" y1="605.80" x2="268.27" y2="607.30" stroke="#333" stroke-width="0.6" />
<text x="268.27" y="612.90" font-family="Liberation Sans" font-size="5.6" text-anchor="middle" fill="#222" >550</text>
<line x1="291.25" y1="605.80" x2="291.25" y2="607.30" stroke="#333" stroke-width="0.6" />
<text x="291.25" y="612.90" font-family="Liberation Sans" font-size="5.6" text-anchor="middle" fill="#222" >600</text>
<line x1="314.23" y1="605.80" x2="314.23" y2="607.30" stroke="#333" stroke-width="0.6" />
<text x="314.23" y="612.90" font-family="Liberation Sans" font-size="5.6" text-anchor="middle" fill="#222" >650</text>
<line x1="337.20" y1="605.80" x2="337.20" y2="607.30" stroke="#333" stroke-width="0.6" />
<text x="337.20" y="612.90" font-family="Liberation Sans" font-size="5.6" text-anchor="middle" fill="#222" >700</text>
<line x1="360.18" y1="605.80" x2="360.18" y2="607.30" stroke="#333" stroke-width="0.6" />
<text x="360.18" y="612.90" font-family="Liberation Sans" font-size="5.6" text-anchor="middle" fill="#222" >750</text>
<line x1="383.15" y1="605.80" x2="383.15" y2="607.30" stroke="#333" stroke-width="0.6" />
<text x="383.15" y="612.90" font-family="Liberation Sans" font-size="5.6" text-anchor="middle" fill="#222" >800</text>
<line x1="406.12" y1="605.80" x2="406.12" y2="607.30" stroke="#333" stroke-width="0.6" />
<text x="406.12" y="612.90" font-family="Liberation Sans" font-size="5.6" text-anchor="middle" fill="#222" >850</text>
<line x1="429.10" y1="605.80" x2="429.10" y2="607.30" stroke="#333" stroke-width="0.6" />
<text x="429.10" y="612.90" font-family="Liberation Sans" font-size="5.6" text-anchor="middle" fill="#222" >900</text>
<line x1="452.07" y1="605.80" x2="452.07" y2="607.30" stroke="#333" stroke-width="0.6" />
<text x="452.07" y="612.90" font-family="Liberation Sans" font-size="5.6" text-anchor="middle" fill="#222" >950</text>
<line x1="475.05" y1="605.80" x2="475.05" y2="607.30" stroke="#333" stroke-width="0.6" />
<text x="475.05" y="612.90" font-family="Liberation Sans" font-size="5.6" text-anchor="middle" fill="#222" >1000</text>
<line x1="498.03" y1="605.80" x2="498.03" y2="607.30" stroke="#333" stroke-width="0.6" />
<text x="498.03" y="612.90" font-family="Liberation Sans" font-size="5.6" text-anchor="middle" fill="#222" >1050</text>
<line x1="521.00" y1="605.80" x2="521.00" y2="607.30" stroke="#333" stroke-width="0.6" />
<text x="0" y="0" transform="translate(34.6,440.5) rotate(-90)" font-family="Liberation Serif" font-size="14" text-anchor="middle" fill="#111" textLength="80" lengthAdjust="spacingAndGlyphs">Intensity, count</text>
<text x="270.00" y="627.70" font-family="Liberation Serif" font-size="13" text-anchor="middle" fill="#111" textLength="47.5" lengthAdjust="spacingAndGlyphs" >m/z, amu</text>
<rect x="60.90" y="593.60" width="2.30" height="12.20" fill="#0d0d0d"/>
<rect x="63.80" y="593.60" width="1.10" height="12.20" fill="#bdbdbd"/>
<rect x="65.50" y="593.60" width="1.70" height="12.20" fill="#0d0d0d"/>
<rect x="69.50" y="593.60" width="1.80" height="12.20" fill="#bdbdbd"/>
<rect x="73.60" y="593.60" width="2.90" height="12.20" fill="#3a3a3a"/>
<rect x="76.50" y="593.60" width="1.70" height="12.20" fill="#808080"/>
<rect x="78.80" y="593.60" width="2.20" height="12.20" fill="#0d0d0d"/>
<rect x="81.00" y="593.60" width="3.00" height="12.20" fill="#bdbdbd"/>
<rect x="84.00" y="593.60" width="5.20" height="12.20" fill="#0d0d0d"/>
<rect x="89.20" y="593.60" width="2.30" height="12.20" fill="#808080"/>
<rect x="92.00" y="593.60" width="4.00" height="12.20" fill="#0d0d0d"/>
<rect x="96.00" y="593.60" width="2.40" height="12.20" fill="#808080"/>
<rect x="99.00" y="593.60" width="3.40" height="12.20" fill="#0d0d0d"/>
<rect x="102.40" y="593.60" width="1.60" height="12.20" fill="#bdbdbd"/>
<rect x="104.00" y="593.60" width="2.50" height="12.20" fill="#3a3a3a"/>
<rect x="106.50" y="593.60" width="2.30" height="12.20" fill="#bdbdbd"/>
<rect x="108.80" y="593.60" width="3.40" height="12.20" fill="#0d0d0d"/>
<rect x="112.20" y="593.60" width="2.30" height="12.20" fill="#808080"/>
<rect x="114.50" y="593.60" width="6.40" height="12.20" fill="#0d0d0d"/>
<rect x="121.50" y="593.60" width="1.10" height="12.20" fill="#bdbdbd"/>
<rect x="122.60" y="593.60" width="2.40" height="12.20" fill="#0d0d0d"/>
<rect x="125.00" y="593.60" width="1.00" height="12.20" fill="#808080"/>
<rect x="126.00" y="593.60" width="3.50" height="12.20" fill="#0d0d0d"/>
<rect x="129.50" y="593.60" width="3.50" height="12.20" fill="#808080"/>
<rect x="133.00" y="593.60" width="2.30" height="12.20" fill="#0d0d0d"/>
<rect x="137.60" y="593.60" width="11.40" height="12.20" fill="#0d0d0d"/>
<rect x="149.00" y="593.60" width="2.50" height="12.20" fill="#808080"/>
<rect x="151.50" y="593.60" width="9.20" height="12.20" fill="#0d0d0d"/>
<rect x="162.40" y="593.60" width="2.90" height="12.20" fill="#0d0d0d"/>
<rect x="165.30" y="593.60" width="1.20" height="12.20" fill="#808080"/>
<rect x="166.50" y="593.60" width="6.90" height="12.20" fill="#0d0d0d"/>
<rect x="175.00" y="593.60" width="7.00" height="12.20" fill="#0d0d0d"/>
<rect x="182.00" y="593.60" width="1.80" height="12.20" fill="#bdbdbd"/>
<rect x="183.80" y="593.60" width="5.70" height="12.20" fill="#0d0d0d"/>
<rect x="190.70" y="593.60" width="3.50" height="12.20" fill="#0d0d0d"/>
<rect x="196.50" y="593.60" width="10.30" height="12.20" fill="#3a3a3a"/>
<rect x="206.80" y="593.60" width="2.40" height="12.20" fill="#bdbdbd"/>
<rect x="209.20" y="593.60" width="10.30" height="12.20" fill="#0d0d0d"/>
<rect x="219.50" y="593.60" width="2.90" height="12.20" fill="#bdbdbd"/>
<rect x="222.40" y="593.60" width="2.90" height="12.20" fill="#0d0d0d"/>
<rect x="226.50" y="593.60" width="5.70" height="12.20" fill="#0d0d0d"/>
<rect x="232.20" y="593.60" width="2.30" height="12.20" fill="#808080"/>
<rect x="234.50" y="593.60" width="8.70" height="12.20" fill="#0d0d0d"/>
<rect x="243.20" y="593.60" width="1.10" height="12.20" fill="#bdbdbd"/>
<rect x="244.30" y="593.60" width="2.90" height="12.20" fill="#0d0d0d"/>
<rect x="249.00" y="593.60" width="2.80" height="12.20" fill="#0d0d0d"/>
<rect x="251.80" y="593.60" width="1.80" height="12.20" fill="#808080"/>
<rect x="253.60" y="593.60" width="4.00" height="12.20" fill="#0d0d0d"/>
<rect x="257.60" y="593.60" width="1.70" height="12.20" fill="#bdbdbd"/>
<rect x="259.30" y="593.60" width="8.10" height="12.20" fill="#0d0d0d"/>
<rect x="267.40" y="593.60" width="1.80" height="12.20" fill="#808080"/>
<rect x="269.20" y="593.60" width="3.40" height="12.20" fill="#0d0d0d"/>
<rect x="272.60" y="593.60" width="2.40" height="12.20" fill="#808080"/>
<rect x="275.00" y="593.60" width="2.80" height="12.20" fill="#0d0d0d"/>
<rect x="277.80" y="593.60" width="2.30" height="12.20" fill="#808080"/>
<rect x="280.10" y="593.60" width="2.30" height="12.20" fill="#0d0d0d"/>
<rect x="284.20" y="593.60" width="2.30" height="12.20" fill="#0d0d0d"/>
<rect x="286.50" y="593.60" width="2.30" height="12.20" fill="#bdbdbd"/>
<rect x="288.80" y="593.60" width="2.70" height="12.20" fill="#3a3a3a"/>
<rect x="292.00" y="593.60" width="1.80" height="12.20" fill="#222"/>
<rect x="296.00" y="593.60" width="1.30" height="12.20" fill="#888"/>
<rect x="298.50" y="593.60" width="2.00" height="12.20" fill="#222"/>
<rect x="301.00" y="593.60" width="2.00" height="12.20" fill="#777"/>
<rect x="304.00" y="593.60" width="1.40" height="12.20" fill="#444"/>
<rect x="308.80" y="593.60" width="1.20" height="12.20" fill="#777"/>
<rect x="311.00" y="593.60" width="1.00" height="12.20" fill="#333"/>
<rect x="312.50" y="593.60" width="1.00" height="12.20" fill="#999"/>
<rect x="314.60" y="593.60" width="1.00" height="12.20" fill="#777"/>
<rect x="318.00" y="593.60" width="2.00" height="12.20" fill="#111"/>
<rect x="320.50" y="593.60" width="1.50" height="12.20" fill="#444"/>
<rect x="322.50" y="593.60" width="3.50" height="12.20" fill="#111"/>
<rect x="328.50" y="593.60" width="1.50" height="12.20" fill="#222"/>
<rect x="330.50" y="593.60" width="1.50" height="12.20" fill="#555"/>
<rect x="334.00" y="593.60" width="1.00" height="12.20" fill="#777"/>
<rect x="335.50" y="593.60" width="1.00" height="12.20" fill="#333"/>
<rect x="340.00" y="593.60" width="1.00" height="12.20" fill="#999"/>
<rect x="344.60" y="593.60" width="1.00" height="12.20" fill="#555"/>
<rect x="346.00" y="593.60" width="1.00" height="12.20" fill="#999"/>
<rect x="350.40" y="593.60" width="1.00" height="12.20" fill="#222"/>
<rect x="356.00" y="593.60" width="1.00" height="12.20" fill="#aaa"/>
<rect x="362.00" y="593.60" width="2.00" height="12.20" fill="#222"/>
<rect x="368.80" y="593.60" width="1.20" height="12.20" fill="#777"/>
<rect x="370.20" y="593.60" width="0.80" height="12.20" fill="#aaa"/>
<rect x="373.50" y="593.60" width="1.10" height="12.20" fill="#888"/>
<rect x="378.00" y="593.60" width="2.00" height="12.20" fill="#333"/>
<rect x="380.50" y="593.60" width="2.20" height="12.20" fill="#555"/>
<rect x="385.00" y="593.60" width="1.00" height="12.20" fill="#999"/>
<rect x="388.50" y="593.60" width="1.00" height="12.20" fill="#555"/>
<rect x="390.00" y="593.60" width="0.80" height="12.20" fill="#aaa"/>
<rect x="395.40" y="593.60" width="2.30" height="12.20" fill="#222"/>
<rect x="401.00" y="593.60" width="1.00" height="12.20" fill="#777"/>
<rect x="402.50" y="593.60" width="0.80" height="12.20" fill="#999"/>
<rect x="404.00" y="593.60" width="1.00" height="12.20" fill="#777"/>
<rect x="408.50" y="593.60" width="1.00" height="12.20" fill="#333"/>
<rect x="410.00" y="593.60" width="0.80" height="12.20" fill="#999"/>
<rect x="417.00" y="593.60" width="1.00" height="12.20" fill="#333"/>
<rect x="418.50" y="593.60" width="1.00" height="12.20" fill="#111"/>
<rect x="420.00" y="593.60" width="1.00" height="12.20" fill="#555"/>
<rect x="424.50" y="593.60" width="1.00" height="12.20" fill="#555"/>
<rect x="426.00" y="593.60" width="0.80" height="12.20" fill="#999"/>
<rect x="430.50" y="593.60" width="1.00" height="12.20" fill="#999"/>
<rect x="438.00" y="593.60" width="0.80" height="12.20" fill="#aaa"/>
<rect x="439.50" y="593.60" width="0.80" height="12.20" fill="#aaa"/>
<rect x="448.50" y="593.60" width="1.00" height="12.20" fill="#333"/>
<rect x="453.50" y="593.60" width="1.00" height="12.20" fill="#777"/>
<rect x="455.00" y="593.60" width="1.00" height="12.20" fill="#333"/>
<rect x="457.50" y="593.60" width="1.00" height="12.20" fill="#555"/>
<rect x="462.00" y="593.60" width="1.00" height="12.20" fill="#999"/>
<rect x="466.50" y="593.60" width="0.80" height="12.20" fill="#aaa"/>
<rect x="469.00" y="593.60" width="1.00" height="12.20" fill="#999"/>
<rect x="470.50" y="593.60" width="0.80" height="12.20" fill="#777"/>
<rect x="474.00" y="593.60" width="1.00" height="12.20" fill="#aaa"/>
<rect x="479.50" y="593.60" width="1.00" height="12.20" fill="#999"/>
<rect x="487.50" y="593.60" width="1.00" height="12.20" fill="#333"/>
<rect x="489.00" y="593.60" width="1.00" height="12.20" fill="#555"/>
<rect x="490.50" y="593.60" width="0.80" height="12.20" fill="#777"/>
<rect x="494.50" y="593.60" width="1.00" height="12.20" fill="#333"/>
<rect x="496.00" y="593.60" width="1.00" height="12.20" fill="#111"/>
<rect x="497.50" y="593.60" width="1.00" height="12.20" fill="#333"/>
<rect x="499.00" y="593.60" width="1.00" height="12.20" fill="#555"/>
<rect x="500.50" y="593.60" width="0.80" height="12.20" fill="#777"/>
<rect x="514.50" y="593.60" width="1.00" height="12.20" fill="#999"/>
<rect x="293" y="593.60" width="0.8" height="12.20" fill="#aaa"/>
<rect x="294" y="593.60" width="0.8" height="12.20" fill="#aaa"/>
<rect x="296" y="593.60" width="0.8" height="12.20" fill="#bbb"/>
<rect x="299" y="593.60" width="0.8" height="12.20" fill="#555"/>
<rect x="303" y="593.60" width="0.8" height="12.20" fill="#777"/>
<rect x="306" y="593.60" width="0.8" height="12.20" fill="#bbb"/>
<rect x="309" y="593.60" width="0.8" height="12.20" fill="#555"/>
<rect x="311" y="593.60" width="0.8" height="12.20" fill="#777"/>
<rect x="313" y="593.60" width="0.8" height="12.20" fill="#999"/>
<rect x="315" y="593.60" width="0.8" height="12.20" fill="#555"/>
<rect x="316" y="593.60" width="0.8" height="12.20" fill="#555"/>
<rect x="320" y="593.60" width="0.8" height="12.20" fill="#aaa"/>
<rect x="326" y="593.60" width="0.8" height="12.20" fill="#555"/>
<rect x="328" y="593.60" width="0.8" height="12.20" fill="#999"/>
<rect x="329" y="593.60" width="0.8" height="12.20" fill="#bbb"/>
<rect x="330" y="593.60" width="0.8" height="12.20" fill="#bbb"/>
<rect x="332" y="593.60" width="0.8" height="12.20" fill="#555"/>
<rect x="333" y="593.60" width="0.8" height="12.20" fill="#777"/>
<rect x="334" y="593.60" width="0.8" height="12.20" fill="#bbb"/>
<rect x="335" y="593.60" width="0.8" height="12.20" fill="#999"/>
<rect x="340" y="593.60" width="0.8" height="12.20" fill="#bbb"/>
<rect x="342" y="593.60" width="0.8" height="12.20" fill="#555"/>
<rect x="344" y="593.60" width="0.8" height="12.20" fill="#bbb"/>
<rect x="345" y="593.60" width="0.8" height="12.20" fill="#999"/>
<rect x="346" y="593.60" width="0.8" height="12.20" fill="#aaa"/>
<rect x="351" y="593.60" width="0.8" height="12.20" fill="#bbb"/>
<rect x="354" y="593.60" width="0.8" height="12.20" fill="#777"/>
<rect x="355" y="593.60" width="0.8" height="12.20" fill="#999"/>
<rect x="357" y="593.60" width="0.8" height="12.20" fill="#999"/>
<rect x="358" y="593.60" width="0.8" height="12.20" fill="#bbb"/>
<rect x="363" y="593.60" width="0.8" height="12.20" fill="#999"/>
<rect x="364" y="593.60" width="0.8" height="12.20" fill="#999"/>
<rect x="369" y="593.60" width="0.8" height="12.20" fill="#aaa"/>
<rect x="371" y="593.60" width="0.8" height="12.20" fill="#777"/>
<rect x="372" y="593.60" width="0.8" height="12.20" fill="#aaa"/>
<rect x="379" y="593.60" width="0.8" height="12.20" fill="#777"/>
<rect x="385" y="593.60" width="0.8" height="12.20" fill="#777"/>
<rect x="389" y="593.60" width="0.8" height="12.20" fill="#555"/>
<rect x="393" y="593.60" width="0.8" height="12.20" fill="#777"/>
<rect x="395" y="593.60" width="0.8" height="12.20" fill="#777"/>
<rect x="398" y="593.60" width="0.8" height="12.20" fill="#aaa"/>
<rect x="400" y="593.60" width="0.8" height="12.20" fill="#bbb"/>
<rect x="403" y="593.60" width="0.8" height="12.20" fill="#777"/>
<rect x="405" y="593.60" width="0.8" height="12.20" fill="#555"/>
<rect x="407" y="593.60" width="0.8" height="12.20" fill="#777"/>
<rect x="414" y="593.60" width="0.8" height="12.20" fill="#bbb"/>
<rect x="421" y="593.60" width="0.8" height="12.20" fill="#999"/>
<rect x="424" y="593.60" width="0.8" height="12.20" fill="#999"/>
<rect x="436" y="593.60" width="0.8" height="12.20" fill="#bbb"/>
<rect x="446" y="593.60" width="0.8" height="12.20" fill="#bbb"/>
<rect x="456" y="593.60" width="0.8" height="12.20" fill="#999"/>
<rect x="460" y="593.60" width="0.8" height="12.20" fill="#bbb"/>
<rect x="461" y="593.60" width="0.8" height="12.20" fill="#999"/>
<rect x="467" y="593.60" width="0.8" height="12.20" fill="#555"/>
<rect x="470" y="593.60" width="0.8" height="12.20" fill="#555"/>
<rect x="471" y="593.60" width="0.8" height="12.20" fill="#777"/>
<rect x="472" y="593.60" width="0.8" height="12.20" fill="#bbb"/>
<rect x="473" y="593.60" width="0.8" height="12.20" fill="#bbb"/>
<rect x="474" y="593.60" width="0.8" height="12.20" fill="#aaa"/>
<rect x="475" y="593.60" width="0.8" height="12.20" fill="#aaa"/>
<rect x="476" y="593.60" width="0.8" height="12.20" fill="#777"/>
<rect x="477" y="593.60" width="0.8" height="12.20" fill="#aaa"/>
<rect x="479" y="593.60" width="0.8" height="12.20" fill="#777"/>
<rect x="482" y="593.60" width="0.8" height="12.20" fill="#999"/>
<rect x="485" y="593.60" width="0.8" height="12.20" fill="#999"/>
<rect x="486" y="593.60" width="0.8" height="12.20" fill="#555"/>
<rect x="488" y="593.60" width="0.8" height="12.20" fill="#aaa"/>
<rect x="493" y="593.60" width="0.8" height="12.20" fill="#777"/>
<rect x="498" y="593.60" width="0.8" height="12.20" fill="#555"/>
<rect x="500" y="593.60" width="0.8" height="12.20" fill="#bbb"/>
<rect x="510" y="593.60" width="0.8" height="12.20" fill="#aaa"/>
<rect x="60" y="581.40" width="1" height="12.20" fill="#777"/>
<rect x="62" y="581.40" width="1" height="12.20" fill="#777"/>
<rect x="65" y="581.40" width="1" height="12.20" fill="#555"/>
<rect x="67" y="581.40" width="1" height="12.20" fill="#777"/>
<rect x="73" y="581.40" width="1" height="12.20" fill="#888"/>
<rect x="75" y="569.20" width="1" height="24.40" fill="#777"/>
<rect x="77" y="569.20" width="1" height="24.40" fill="#888"/>
<rect x="78" y="581.40" width="1" height="12.20" fill="#888"/>
<rect x="80" y="581.40" width="1" height="12.20" fill="#555"/>
<rect x="84" y="569.20" width="1" height="24.40" fill="#777"/>
<rect x="88" y="569.20" width="1" height="24.40" fill="#555"/>
<rect x="91" y="569.20" width="1" height="24.40" fill="#999"/>
<rect x="92" y="569.20" width="1" height="24.40" fill="#555"/>
<rect x="95" y="569.20" width="1" height="24.40" fill="#888"/>
<rect x="104" y="581.40" width="1" height="12.20" fill="#888"/>
<rect x="108" y="581.40" width="1" height="12.20" fill="#333"/>
<rect x="109" y="569.20" width="1" height="24.40" fill="#999"/>
<rect x="115" y="569.20" width="1" height="24.40" fill="#777"/>
<rect x="118" y="581.40" width="1" height="12.20" fill="#555"/>
<rect x="119" y="581.40" width="1" height="12.20" fill="#555"/>
<rect x="121" y="581.40" width="1" height="12.20" fill="#555"/>
<rect x="125" y="581.40" width="1" height="12.20" fill="#999"/>
<rect x="126" y="581.40" width="1" height="12.20" fill="#333"/>
<rect x="131" y="569.20" width="1" height="24.40" fill="#777"/>
<rect x="136" y="581.40" width="1" height="12.20" fill="#999"/>
<rect x="138" y="569.20" width="1" height="24.40" fill="#888"/>
<rect x="141" y="569.20" width="1" height="24.40" fill="#888"/>
<rect x="144" y="569.20" width="1" height="24.40" fill="#777"/>
<rect x="152" y="569.20" width="1" height="24.40" fill="#999"/>
<rect x="155" y="581.40" width="1" height="12.20" fill="#333"/>
<rect x="160" y="581.40" width="1" height="12.20" fill="#888"/>
<rect x="162" y="569.20" width="1" height="24.40" fill="#333"/>
<rect x="164" y="569.20" width="1" height="24.40" fill="#888"/>
<rect x="170" y="569.20" width="1" height="24.40" fill="#777"/>
<rect x="176" y="581.40" width="1" height="12.20" fill="#777"/>
<rect x="178" y="569.20" width="1" height="24.40" fill="#888"/>
<rect x="184" y="581.40" width="1" height="12.20" fill="#333"/>
<rect x="189" y="581.40" width="1" height="12.20" fill="#888"/>
<rect x="191" y="581.40" width="1" height="12.20" fill="#333"/>
<rect x="198" y="581.40" width="1" height="12.20" fill="#999"/>
<rect x="200" y="581.40" width="1" height="12.20" fill="#888"/>
<rect x="206" y="581.40" width="1" height="12.20" fill="#999"/>
<rect x="208" y="581.40" width="1" height="12.20" fill="#333"/>
<rect x="212" y="581.40" width="1" height="12.20" fill="#777"/>
<rect x="216" y="581.40" width="1" height="12.20" fill="#333"/>
<rect x="227" y="581.40" width="1" height="12.20" fill="#333"/>
<rect x="230" y="581.40" width="1" height="12.20" fill="#999"/>
<rect x="232" y="569.20" width="1" height="24.40" fill="#777"/>
<rect x="238" y="581.40" width="1" height="12.20" fill="#555"/>
<rect x="242" y="581.40" width="1" height="12.20" fill="#999"/>
<rect x="245" y="581.40" width="1" height="12.20" fill="#888"/>
<rect x="254" y="569.20" width="1" height="24.40" fill="#999"/>
<rect x="257" y="581.40" width="1" height="12.20" fill="#777"/>
<rect x="262" y="569.20" width="1" height="24.40" fill="#888"/>
<rect x="267" y="569.20" width="1" height="24.40" fill="#777"/>
<rect x="270" y="581.40" width="1" height="12.20" fill="#999"/>
<rect x="276" y="581.40" width="1" height="12.20" fill="#888"/>
<rect x="278" y="569.20" width="1" height="24.40" fill="#333"/>
<rect x="283" y="569.20" width="1" height="24.40" fill="#888"/>
<rect x="63" y="520.40" width="1" height="85.40" fill="#888"/>
<rect x="83" y="508.20" width="1" height="97.60" fill="#777"/>
<rect x="92" y="520.40" width="1" height="85.40" fill="#222"/>
<rect x="100" y="447.20" width="1" height="158.60" fill="#888"/>
<rect x="108" y="544.80" width="1" height="61.00" fill="#777"/>
<rect x="118" y="544.80" width="1" height="61.00" fill="#555"/>
<rect x="79" y="557.00" width="1" height="48.80" fill="#222"/>
<rect x="88" y="569.20" width="1" height="36.60" fill="#888"/>
<rect x="96" y="569.20" width="1" height="36.60" fill="#666"/>
<rect x="104" y="569.20" width="1" height="36.60" fill="#999"/>
<rect x="112" y="581.40" width="1" height="24.40" fill="#666"/>
<rect x="124" y="569.20" width="1" height="36.60" fill="#333"/>
<rect x="126" y="581.40" width="1" height="24.40" fill="#666"/>
<rect x="130" y="581.40" width="1" height="24.40" fill="#777"/>
<rect x="134" y="471.60" width="1" height="134.20" fill="#888"/>
<rect x="141" y="532.60" width="1" height="73.20" fill="#222"/>
<rect x="153" y="471.60" width="1" height="134.20" fill="#777"/>
<rect x="160" y="496.00" width="1" height="109.80" fill="#888"/>
<rect x="158" y="569.20" width="1" height="36.60" fill="#222"/>
<rect x="164" y="569.20" width="1" height="36.60" fill="#555"/>
<rect x="170" y="569.20" width="1" height="36.60" fill="#444"/>
<rect x="174" y="557.00" width="1" height="48.80" fill="#666"/>
<rect x="178" y="581.40" width="1" height="24.40" fill="#777"/>
<rect x="180" y="532.60" width="1" height="73.20" fill="#888"/>
<rect x="185" y="459.40" width="1" height="146.40" fill="#888"/>
<rect x="187" y="520.40" width="1" height="85.40" fill="#333"/>
<rect x="193" y="496.00" width="1" height="109.80" fill="#222"/>
<rect x="202" y="581.40" width="1" height="24.40" fill="#555"/>
<rect x="205" y="581.40" width="1" height="24.40" fill="#888"/>
<rect x="216" y="581.40" width="1" height="24.40" fill="#555"/>
<rect x="219" y="581.40" width="1" height="24.40" fill="#888"/>
<rect x="224" y="471.60" width="1" height="134.20" fill="#777"/>
<rect x="233" y="325.20" width="1" height="280.60" fill="#777"/>
<rect x="237" y="496.00" width="1" height="109.80" fill="#777"/>
<rect x="235" y="569.20" width="1" height="36.60" fill="#222"/>
<rect x="240" y="569.20" width="1" height="36.60" fill="#888"/>
<rect x="244" y="557.00" width="1" height="48.80" fill="#555"/>
<rect x="253" y="557.00" width="1" height="48.80" fill="#888"/>
<rect x="278" y="544.80" width="1" height="61.00" fill="#555"/>
<rect x="285" y="508.20" width="1" height="97.60" fill="#888"/>
<rect x="304" y="581.40" width="1" height="24.40" fill="#888"/>
<rect x="318" y="581.40" width="1" height="24.40" fill="#222"/>
<rect x="324" y="557.00" width="1" height="48.80" fill="#222"/>
<rect x="331" y="532.60" width="1" height="73.20" fill="#888"/>
<rect x="337" y="581.40" width="1" height="24.40" fill="#888"/>
<rect x="363" y="581.40" width="1" height="24.40" fill="#999"/>
<rect x="396" y="581.40" width="1" height="24.40" fill="#222"/>
<rect x="404" y="508.20" width="1" height="97.60" fill="#333"/>
<rect x="416" y="532.60" width="1" height="73.20" fill="#555"/>
<rect x="456" y="569.20" width="1" height="36.60" fill="#444"/>
<rect x="496" y="557.00" width="1" height="48.80" fill="#444"/>
<rect x="507" y="581.40" width="1" height="24.40" fill="#999"/>
<rect x="224" y="532.70" width="1" height="73.10" fill="#222"/>
<rect x="285" y="556.00" width="1" height="49.80" fill="#222"/>
<rect x="404" y="520.00" width="1" height="85.80" fill="#111"/>
<rect x="405" y="520.00" width="1" height="85.80" fill="#111"/>
<rect x="416" y="557.50" width="1" height="48.30" fill="#111"/>
<rect x="456" y="581.00" width="1" height="24.80" fill="#111"/>
<rect x="496" y="570.00" width="1" height="35.80" fill="#111"/>
<rect x="233" y="470.00" width="1" height="135.80" fill="#333"/>
<text x="101.00" y="445.80" font-family="Liberation Sans" font-size="5.0" text-anchor="middle" fill="#222" >186.0879</text>
<text x="84.00" y="507.20" font-family="Liberation Sans" font-size="5.0" text-anchor="middle" fill="#222" >147.1155</text>
<text x="109.20" y="520.00" font-family="Liberation Sans" font-size="5.0" text-anchor="middle" fill="#222" >158.0764</text>
<text x="107.00" y="544.00" font-family="Liberation Sans" font-size="5.0" text-anchor="middle" fill="#222" >201.0716</text>
<text x="153.00" y="470.80" font-family="Liberation Sans" font-size="5.0" text-anchor="middle" fill="#222" >300.1071</text>
<text x="161.00" y="494.80" font-family="Liberation Sans" font-size="5.0" text-anchor="middle" fill="#222" >317.1253</text>
<text x="184.70" y="458.00" font-family="Liberation Sans" font-size="5.0" text-anchor="middle" fill="#222" >369.1863</text>
<text x="191.00" y="494.80" font-family="Liberation Sans" font-size="5.0" text-anchor="middle" fill="#222" >387.1379</text>
<text x="186.60" y="519.60" font-family="Liberation Sans" font-size="5.0" text-anchor="middle" fill="#222" >376.1337</text>
<text x="180.00" y="531.30" font-family="Liberation Sans" font-size="5.0" text-anchor="middle" fill="#222" >359.1455</text>
<text x="140.80" y="556.00" font-family="Liberation Sans" font-size="5.0" text-anchor="middle" fill="#222" >349.1696</text>
<text x="172.00" y="556.00" font-family="Liberation Sans" font-size="5.0" text-anchor="middle" fill="#222" >343.1536</text>
<text x="165.00" y="568.80" font-family="Liberation Sans" font-size="5.0" text-anchor="middle" fill="#222" >327.1580</text>
<text x="224.00" y="470.80" font-family="Liberation Sans" font-size="5.0" text-anchor="middle" fill="#222" >466.2606</text>
<text x="237.00" y="494.80" font-family="Liberation Sans" font-size="5.0" text-anchor="middle" fill="#222" >482.1914</text>
<text x="239.00" y="567.90" font-family="Liberation Sans" font-size="5.0" text-anchor="middle" fill="#222" >466.1662</text>
<text x="253.00" y="555.40" font-family="Liberation Sans" font-size="5.0" text-anchor="middle" fill="#222" >517.2420</text>
<text x="278.00" y="543.90" font-family="Liberation Sans" font-size="5.0" text-anchor="middle" fill="#222" >571.2906</text>
<text x="286.00" y="507.40" font-family="Liberation Sans" font-size="5.0" text-anchor="middle" fill="#222" >588.2984</text>
<text x="330.70" y="531.60" font-family="Liberation Sans" font-size="5.0" text-anchor="middle" fill="#222" >687.3696</text>
<text x="324.50" y="555.90" font-family="Liberation Sans" font-size="5.0" text-anchor="middle" fill="#222" >673.3312</text>
<text x="404.00" y="519.10" font-family="Liberation Sans" font-size="5.0" text-anchor="middle" fill="#222" >847.4384</text>
<text x="416.20" y="531.60" font-family="Liberation Sans" font-size="5.0" text-anchor="middle" fill="#222" >873.3537</text>
<text x="456.30" y="567.90" font-family="Liberation Sans" font-size="5.0" text-anchor="middle" fill="#222" >960.5066</text>
<text x="496.30" y="567.90" font-family="Liberation Sans" font-size="5.0" text-anchor="middle" fill="#222" >1047.5627</text>
<text x="232.70" y="328.10" font-family="Liberation Sans" font-size="5.0" text-anchor="middle" fill="#222" >473.2716</text>
<text x="129.50" y="531.60" font-family="Liberation Sans" font-size="5.0" text-anchor="middle" fill="#222" >257.1704_275.1776</text>
<text x="133.00" y="543.90" font-family="Liberation Sans" font-size="5.0" text-anchor="middle" fill="#222" >224.1042</text>
<text x="101.50" y="568.80" font-family="Liberation Sans" font-size="5.0" text-anchor="middle" fill="#222" >173.1345_201.0792 240.1332</text>
<text x="84.70" y="556.00" font-family="Liberation Sans" font-size="5.0" text-anchor="middle" fill="#222" >0282</text>
<path d="M52.4,568.4 L55.6,570.7 L52.4,573 Z" fill="#111"/>
<path d="M92.8,521 L92.8,520.2 Q93.3,518.4 95.5,518.4 L98.6,518.4" fill="none" stroke="#333" stroke-width="0.8"/>
<path d="M118.6,546 L118.6,545 Q119,542.8 121.2,542.8 L123.4,542.8" fill="none" stroke="#333" stroke-width="0.8"/>
<path d="M151.8,554.6 L155,554.6 Q157.3,555 157.3,557.5 L157.3,559" fill="none" stroke="#333" stroke-width="0.8"/>
<path d="M127.5,531 L133.5,531 L133.9,532" fill="none" stroke="#333" stroke-width="0.8"/>
<text x="72.50" y="419.20" font-family="Liberation Serif" font-size="14" text-anchor="middle" fill="#111" >b1</text>
<text x="100.00" y="438.30" font-family="Liberation Serif" font-size="14" text-anchor="middle" fill="#111" >b2</text>
<text x="161.50" y="486.30" font-family="Liberation Serif" font-size="14" text-anchor="middle" fill="#111" >b3</text>
<text x="200.40" y="546.20" font-family="Liberation Serif" font-size="14" text-anchor="middle" fill="#111" >b4</text>
<text x="252.70" y="547.10" font-family="Liberation Serif" font-size="14" text-anchor="middle" fill="#111" >b5</text>
<text x="81.70" y="496.00" font-family="Liberation Serif" font-size="14" text-anchor="middle" fill="#111" >y1</text>
<text x="140.00" y="522.40" font-family="Liberation Serif" font-size="14" text-anchor="middle" fill="#111" >y2</text>
<text x="186.60" y="435.20" font-family="Liberation Serif" font-size="14" text-anchor="middle" fill="#111" >y3</text>
<text x="232.20" y="319.00" font-family="Liberation Serif" font-size="14" text-anchor="middle" fill="#111" >y4</text>
<text x="282.80" y="495.50" font-family="Liberation Serif" font-size="14" text-anchor="middle" fill="#111" >y5</text>
<text x="329.60" y="520.00" font-family="Liberation Serif" font-size="14" text-anchor="middle" fill="#111" >y6</text>
<text x="405.60" y="503.20" font-family="Liberation Serif" font-size="14" text-anchor="middle" fill="#111" >y7</text>
<text x="456.20" y="558.00" font-family="Liberation Serif" font-size="14" text-anchor="middle" fill="#111" >y8</text>
<text x="495.00" y="552.50" font-family="Liberation Serif" font-size="14" text-anchor="middle" fill="#111" >y9</text>
<line x1="73.80" y1="423.80" x2="73.80" y2="554.20" stroke="#111" stroke-width="1.3" stroke-dasharray="4.5,3" />
<path d="M70.20,553.00 L77.40,553.00 L73.80,560.20 Z" fill="#000"/>
<line x1="187.40" y1="440.30" x2="187.40" y2="507.00" stroke="#111" stroke-width="1.3" stroke-dasharray="4.5,3" />
<path d="M183.80,505.80 L191.00,505.80 L187.40,513.00 Z" fill="#000"/>
<line x1="201.00" y1="550.00" x2="201.00" y2="572.80" stroke="#111" stroke-width="1.3" stroke-dasharray="4.5,3" />
<path d="M197.40,571.60 L204.60,571.60 L201.00,578.80 Z" fill="#000"/>
<text x="1.40" y="661.30" font-family="Liberation Sans" font-size="17" text-anchor="start" fill="#000" font-weight="bold" >C</text>
<text x="196.80" y="673.60" font-family="Liberation Serif" font-size="12" text-anchor="middle" fill="#111" textLength="91.7" lengthAdjust="spacingAndGlyphs" >CCL8(m/z=8972)</text>
<rect x="52.9" y="679" width="423.2" height="206.9" fill="none" stroke="#222" stroke-width="1.5"/>
<rect x="90.4" y="695.6" width="342.1" height="80.4" fill="none" stroke="#bbb" stroke-width="0.9"/>
<rect x="90.4" y="776" width="342.1" height="81" fill="none" stroke="#bbb" stroke-width="0.9"/>
<line x1="78.80" y1="776.00" x2="432.50" y2="776.00" stroke="#555" stroke-width="1.4" />
<line x1="78.80" y1="857.00" x2="432.50" y2="857.00" stroke="#aaa" stroke-width="1.0" />
<text x="130.00" y="691.20" font-family="Liberation Sans" font-size="6.4" text-anchor="middle" fill="#222" >5000</text>
<text x="130.00" y="866.30" font-family="Liberation Sans" font-size="6.4" text-anchor="middle" fill="#222" >5000</text>
<text x="230.50" y="691.20" font-family="Liberation Sans" font-size="6.4" text-anchor="middle" fill="#222" >10000</text>
<text x="230.50" y="866.30" font-family="Liberation Sans" font-size="6.4" text-anchor="middle" fill="#222" >10000</text>
<text x="331.00" y="691.20" font-family="Liberation Sans" font-size="6.4" text-anchor="middle" fill="#222" >15000</text>
<text x="331.00" y="866.30" font-family="Liberation Sans" font-size="6.4" text-anchor="middle" fill="#222" >15000</text>
<text x="431.50" y="691.20" font-family="Liberation Sans" font-size="6.4" text-anchor="middle" fill="#222" >20000</text>
<text x="431.50" y="866.30" font-family="Liberation Sans" font-size="6.4" text-anchor="middle" fill="#222" >20000</text>
<text x="87.60" y="769.30" font-family="Liberation Sans" font-size="6.8" text-anchor="end" fill="#333" >0</text>
<text x="87.60" y="748.43" font-family="Liberation Sans" font-size="6.8" text-anchor="end" fill="#333" >20</text>
<text x="87.60" y="727.57" font-family="Liberation Sans" font-size="6.8" text-anchor="end" fill="#333" >40</text>
<text x="87.60" y="706.70" font-family="Liberation Sans" font-size="6.8" text-anchor="end" fill="#333" >60</text>
<text x="87.60" y="850.20" font-family="Liberation Sans" font-size="6.8" text-anchor="end" fill="#333" >0</text>
<text x="87.60" y="829.33" font-family="Liberation Sans" font-size="6.8" text-anchor="end" fill="#333" >20</text>
<text x="87.60" y="808.47" font-family="Liberation Sans" font-size="6.8" text-anchor="end" fill="#333" >40</text>
<text x="87.60" y="787.60" font-family="Liberation Sans" font-size="6.8" text-anchor="end" fill="#333" >60</text>
<path d="M90.60,765.70 L91.10,767.79 L91.60,765.67 L92.10,765.93 L92.60,768.18 L93.10,766.17 L93.60,768.49 L94.10,767.55 L94.60,765.18 L95.10,767.97 L95.60,767.83 L96.10,766.14 L96.60,767.95 L97.10,768.19 L97.60,765.69 L98.10,767.99 L98.60,765.80 L99.10,766.09 L99.60,767.89 L100.10,765.61 L100.60,766.24 L101.10,767.69 L101.60,765.88 L102.10,765.85 L102.60,767.73 L103.10,766.49 L103.60,767.51 L104.10,767.41 L104.60,766.23 L105.10,767.44 L105.60,767.88 L106.10,765.67 L106.60,767.80 L107.10,767.70 L107.60,766.11 L108.10,767.60 L108.60,766.22 L109.10,766.31 L109.60,767.82 L110.10,766.46 L110.60,765.77 L111.10,767.89 L111.60,766.44 L112.10,765.95 L112.60,768.01 L113.10,766.53 L113.60,767.30 L114.10,767.47 L114.60,766.50 L115.10,767.69 L115.60,767.54 L116.10,766.05 L116.60,767.55 L117.10,767.51 L117.60,766.00 L118.10,767.46 L118.60,766.09 L119.10,766.43 L119.60,767.19 L120.10,766.59 L120.60,766.56 L121.10,767.57 L121.60,766.50 L122.10,766.46 L122.60,767.56 L123.10,766.82 L123.60,767.34 L124.10,767.14 L124.60,766.34 L125.10,767.48 L125.60,767.16 L126.10,766.77 L126.60,767.08 L127.10,767.35 L127.60,766.26 L128.10,767.06 L128.60,766.90 L129.10,766.83 L129.60,767.08 L130.10,766.89 L130.60,766.61 L131.10,767.25 L131.60,766.91 L132.10,766.47 L132.60,766.91 L133.10,766.46 L133.60,767.11 L134.10,766.78 L134.60,766.73 L135.10,766.74 L135.60,766.85 L136.10,766.67 L136.60,767.16 L137.10,766.60 L137.60,766.62 L138.10,766.71 L138.60,766.79 L139.10,767.01 L139.60,767.07 L140.10,766.79 L140.60,766.65 L141.10,766.69 L141.60,766.90 L142.10,766.86 L142.60,766.91 L143.10,766.48 L143.60,766.75 L144.10,766.81 L144.60,766.88 L145.10,766.51 L145.60,766.46 L146.10,766.62 L146.60,766.88 L147.10,766.45 L147.60,766.52 L148.10,766.77 L148.60,766.65 L149.10,766.79 L149.60,766.53 L150.10,766.71 L150.60,766.30 L151.10,766.83 L151.60,766.34 L152.10,766.43 L152.60,766.66 L153.10,766.82 L153.60,766.55 L154.10,766.32 L154.60,766.72 L155.10,766.42 L155.60,766.41 L156.10,766.30 L156.60,766.36 L157.10,766.48 L157.60,766.75 L158.10,766.32 L158.60,766.58 L159.10,766.32 L159.60,766.36 L160.10,766.49 L160.60,766.18 L161.10,766.16 L161.60,766.63 L162.10,766.33 L162.60,766.48 L163.10,766.17 L163.60,766.13 L164.10,766.31 L164.60,766.26 L165.10,766.31 L165.60,766.56 L166.10,766.10 L166.60,766.37 L167.10,766.50 L167.60,766.18 L168.10,766.64 L168.60,766.36 L169.10,766.40 L169.60,766.21 L170.10,766.21 L170.60,766.49 L171.10,766.61 L171.60,766.38 L172.10,766.18 L172.60,766.12 L173.10,766.11 L173.60,766.55 L174.10,766.50 L174.60,766.28 L175.10,766.15 L175.60,766.47 L176.10,766.14 L176.60,766.51 L177.10,766.04 L177.60,766.26 L178.10,766.27 L178.60,766.22 L179.10,765.98 L179.60,766.30 L180.10,766.19 L180.60,766.09 L181.10,766.16 L181.60,765.89 L182.10,766.29 L182.60,766.35 L183.10,765.92 L183.60,766.10 L184.10,766.25 L184.60,765.79 L185.10,765.87 L185.60,766.20 L186.10,765.89 L186.60,766.08 L187.10,766.22 L187.60,766.20 L188.10,766.12 L188.60,765.95 L189.10,766.04 L189.60,765.95 L190.10,766.15 L190.60,765.90 L191.10,765.79 L191.60,765.80 L192.10,765.88 L192.60,765.81 L193.10,766.18 L193.60,766.26 L194.10,765.89 L194.60,766.31 L195.10,766.32 L195.60,766.01 L196.10,766.07 L196.60,766.33 L197.10,766.60 L197.60,766.23 L198.10,766.10 L198.60,766.41 L199.10,766.44 L199.60,766.66 L200.10,766.74 L200.60,766.51 L201.10,766.53 L201.60,766.78 L202.10,766.42 L202.60,766.39 L203.10,766.93 L203.60,766.66 L204.10,766.34 L204.60,764.67 L205.10,762.28 L205.60,761.92 L206.10,764.44 L206.60,765.98 L207.10,766.90 L207.60,766.81 L208.10,766.59 L208.60,766.72 L209.10,766.77 L209.60,766.79 L210.10,766.57 L210.60,767.01 L211.10,766.72 L211.60,766.68 L212.10,766.60 L212.60,766.44 L213.10,765.12 L213.60,762.07 L214.10,758.77 L214.60,758.54 L215.10,761.35 L215.60,764.98 L216.10,766.32 L216.60,766.74 L217.10,766.87 L217.60,766.60 L218.10,766.78 L218.60,766.61 L219.10,766.83 L219.60,767.04 L220.10,767.17 L220.60,766.97 L221.10,767.05 L221.60,766.87 L222.10,766.62 L222.60,766.60 L223.10,766.71 L223.60,766.84 L224.10,767.17 L224.60,767.10 L225.10,767.10 L225.60,766.83 L226.10,766.63 L226.60,766.88 L227.10,766.98 L227.60,766.81 L228.10,767.03 L228.60,767.02 L229.10,767.05 L229.60,767.11 L230.10,766.97 L230.60,766.75 L231.10,766.61 L231.60,767.16 L232.10,766.94 L232.60,766.62 L233.10,766.88 L233.60,766.77 L234.10,766.61 L234.60,766.84 L235.10,766.82 L235.60,767.08 L236.10,766.88 L236.60,766.93 L237.10,766.92 L237.60,766.85 L238.10,766.73 L238.60,766.60 L239.10,766.76 L239.60,767.13 L240.10,766.73 L240.60,766.98 L241.10,766.79 L241.60,766.84 L242.10,766.74 L242.60,767.05 L243.10,766.65 L243.60,767.17 L244.10,767.03 L244.60,766.82 L245.10,766.87 L245.60,767.14 L246.10,766.86 L246.60,766.97 L247.10,767.06 L247.60,766.74 L248.10,767.15 L248.60,766.70 L249.10,766.73 L249.60,766.93 L250.10,766.70 L250.60,766.79 L251.10,766.99 L251.60,766.74 L252.10,766.93 L252.60,767.12 L253.10,767.13 L253.60,766.84 L254.10,766.77 L254.60,766.71 L255.10,767.05 L255.60,767.13 L256.10,766.74 L256.60,767.00 L257.10,766.96 L257.60,766.95 L258.10,766.74 L258.60,766.61 L259.10,766.61 L259.60,766.68 L260.10,766.97 L260.60,766.60 L261.10,767.01 L261.60,766.93 L262.10,766.91 L262.60,767.03 L263.10,766.67 L263.60,766.64 L264.10,767.03 L264.60,766.61 L265.10,767.12 L265.60,766.81 L266.10,766.55 L266.60,766.64 L267.10,766.79 L267.60,767.07 L268.10,766.67 L268.60,767.06 L269.10,767.02 L269.60,766.72 L270.10,766.97 L270.60,766.79 L271.10,766.86 L271.60,766.51 L272.10,766.79 L272.60,766.65 L273.10,766.53 L273.60,766.58 L274.10,766.56 L274.60,766.57 L275.10,766.49 L275.60,766.74 L276.10,766.57 L276.60,766.80 L277.10,766.60 L277.60,766.81 L278.10,766.91 L278.60,766.86 L279.10,766.99 L279.60,766.95 L280.10,766.55 L280.60,766.98 L281.10,766.66 L281.60,766.98 L282.10,766.89 L282.60,766.85 L283.10,766.63 L283.60,766.87 L284.10,766.88 L284.60,766.79 L285.10,766.48 L285.60,766.81 L286.10,766.42 L286.60,766.63 L287.10,766.67 L287.60,766.92 L288.10,766.47 L288.60,766.63 L289.10,766.78 L289.60,766.54 L290.10,766.93 L290.60,766.71 L291.10,766.50 L291.60,766.83 L292.10,766.73 L292.60,766.40 L293.10,766.54 L293.60,766.76 L294.10,766.82 L294.60,766.91 L295.10,766.40 L295.60,766.86 L296.10,766.48 L296.60,766.62 L297.10,766.33 L297.60,766.39 L298.10,766.43 L298.60,766.35 L299.10,766.40 L299.60,766.57 L300.10,766.81 L300.60,766.71 L301.10,766.85 L301.60,766.62 L302.10,766.69 L302.60,766.84 L303.10,766.63 L303.60,766.41 L304.10,766.90 L304.60,766.48 L305.10,766.57 L305.60,766.91 L306.10,766.43 L306.60,766.55 L307.10,766.69 L307.60,766.74 L308.10,766.69 L308.60,766.77 L309.10,766.49 L309.60,766.37 L310.10,766.50 L310.60,766.44 L311.10,766.86 L311.60,766.54 L312.10,766.84 L312.60,766.45 L313.10,766.90 L313.60,766.87 L314.10,766.72 L314.60,766.42 L315.10,766.67 L315.60,766.52 L316.10,766.75 L316.60,766.74 L317.10,766.75 L317.60,766.41 L318.10,766.60 L318.60,766.99 L319.10,766.80 L319.60,766.95 L320.10,766.71 L320.60,766.53 L321.10,766.93 L321.60,766.49 L322.10,766.83 L322.60,766.96 L323.10,766.45 L323.60,766.62 L324.10,766.94 L324.60,766.68 L325.10,767.01 L325.60,766.72 L326.10,766.87 L326.60,766.86 L327.10,767.01 L327.60,767.00 L328.10,766.76 L328.60,766.76 L329.10,766.55 L329.60,766.61 L330.10,767.03 L330.60,766.93 L331.10,766.97 L331.60,766.62 L332.10,766.79 L332.60,767.10 L333.10,766.53 L333.60,766.73 L334.10,766.73 L334.60,766.90 L335.10,766.65 L335.60,767.02 L336.10,767.06 L336.60,766.80 L337.10,766.83 L337.60,766.81 L338.10,766.77 L338.60,766.75 L339.10,766.58 L339.60,766.88 L340.10,766.79 L340.60,766.71 L341.10,766.87 L341.60,766.66 L342.10,766.92 L342.60,766.83 L343.10,766.85 L343.60,766.91 L344.10,766.98 L344.60,766.74 L345.10,766.74 L345.60,766.73 L346.10,766.82 L346.60,767.11 L347.10,766.88 L347.60,767.15 L348.10,766.87 L348.60,767.00 L349.10,767.04 L349.60,766.64 L350.10,766.79 L350.60,766.93 L351.10,767.06 L351.60,766.85 L352.10,767.13 L352.60,767.12 L353.10,766.62 L353.60,767.05 L354.10,767.00 L354.60,766.66 L355.10,766.95 L355.60,766.84 L356.10,767.18 L356.60,767.01 L357.10,766.63 L357.60,766.91 L358.10,767.02 L358.60,766.66 L359.10,766.69 L359.60,766.91 L360.10,766.67 L360.60,767.08 L361.10,767.08 L361.60,767.17 L362.10,766.76 L362.60,766.66 L363.10,766.77 L363.60,766.78 L364.10,766.93 L364.60,767.06 L365.10,766.77 L365.60,767.09 L366.10,766.80 L366.60,766.98 L367.10,766.67 L367.60,767.06 L368.10,766.64 L368.60,767.03 L369.10,767.15 L369.60,766.94 L370.10,766.88 L370.60,766.84 L371.10,767.05 L371.60,767.15 L372.10,766.75 L372.60,767.03 L373.10,767.09 L373.60,766.61 L374.10,766.92 L374.60,766.97 L375.10,766.90 L375.60,766.87 L376.10,766.98 L376.60,766.73 L377.10,766.90 L377.60,766.79 L378.10,766.63 L378.60,766.73 L379.10,766.84 L379.60,766.94 L380.10,766.73 L380.60,767.06 L381.10,767.07 L381.60,766.90 L382.10,766.84 L382.60,766.86 L383.10,767.09 L383.60,767.19 L384.10,766.94 L384.60,767.04 L385.10,767.16 L385.60,766.86 L386.10,766.73 L386.60,767.11 L387.10,767.17 L387.60,766.83 L388.10,767.04 L388.60,767.15 L389.10,767.10 L389.60,767.10 L390.10,766.70 L390.60,767.16 L391.10,766.98 L391.60,766.62 L392.10,766.91 L392.60,766.61 L393.10,766.93 L393.60,767.18 L394.10,766.67 L394.60,766.96 L395.10,766.95 L395.60,767.18 L396.10,766.74 L396.60,767.06 L397.10,766.87 L397.60,766.92 L398.10,766.98 L398.60,766.61 L399.10,767.18 L399.60,766.81 L400.10,766.99 L400.60,766.68 L401.10,766.67 L401.60,766.96 L402.10,766.97 L402.60,767.07 L403.10,767.09 L403.60,767.10 L404.10,767.07 L404.60,767.01 L405.10,766.60 L405.60,766.68 L406.10,766.97 L406.60,766.79 L407.10,767.04 L407.60,767.09 L408.10,766.96 L408.60,766.77 L409.10,766.98 L409.60,766.64 L410.10,766.74 L410.60,766.66 L411.10,767.01 L411.60,767.15 L412.10,767.00 L412.60,766.89 L413.10,766.96 L413.60,767.18 L414.10,766.84 L414.60,767.01 L415.10,766.87 L415.60,766.78 L416.10,766.76 L416.60,767.11 L417.10,767.03 L417.60,766.96 L418.10,766.68 L418.60,767.02 L419.10,767.07 L419.60,767.19 L420.10,766.86 L420.60,766.61 L421.10,766.80 L421.60,767.07 L422.10,766.80 L422.60,766.68 L423.10,766.82 L423.60,766.94 L424.10,767.16 L424.60,767.00 L425.10,767.03 L425.60,766.96 L426.10,767.10 L426.60,767.06 L427.10,766.99 L427.60,767.11 L428.10,766.78 L428.60,766.78 L429.10,766.97 L429.60,767.16 L430.10,767.17 L430.60,766.85 L431.10,767.00 L431.60,767.19" fill="none" stroke="#222" stroke-width="1.2"/>
<path d="M90.60,846.89 L91.10,848.99 L91.60,847.41 L92.10,846.93 L92.60,849.30 L93.10,846.89 L93.60,849.48 L94.10,849.81 L94.60,847.11 L95.10,849.68 L95.60,849.30 L96.10,847.25 L96.60,849.81 L97.10,848.95 L97.60,846.53 L98.10,849.40 L98.60,847.50 L99.10,847.32 L99.60,848.77 L100.10,847.17 L100.60,847.30 L101.10,849.08 L101.60,847.58 L102.10,846.78 L102.60,848.94 L103.10,847.40 L103.60,849.09 L104.10,849.15 L104.60,847.33 L105.10,848.88 L105.60,849.52 L106.10,847.31 L106.60,849.15 L107.10,849.24 L107.60,847.52 L108.10,849.29 L108.60,847.72 L109.10,847.35 L109.60,849.20 L110.10,847.64 L110.60,847.12 L111.10,849.16 L111.60,847.35 L112.10,847.61 L112.60,848.93 L113.10,847.80 L113.60,848.61 L114.10,848.76 L114.60,847.63 L115.10,848.75 L115.60,848.58 L116.10,847.40 L116.60,848.63 L117.10,848.93 L117.60,847.40 L118.10,849.06 L118.60,847.36 L119.10,847.43 L119.60,848.99 L120.10,847.38 L120.60,847.46 L121.10,848.67 L121.60,847.30 L122.10,847.56 L122.60,848.54 L123.10,847.36 L123.60,848.56 L124.10,848.45 L124.60,847.38 L125.10,848.59 L125.60,848.34 L126.10,847.65 L126.60,848.33 L127.10,848.79 L127.60,847.19 L128.10,848.28 L128.60,847.42 L129.10,847.71 L129.60,848.38 L130.10,847.22 L130.60,847.47 L131.10,848.52 L131.60,847.44 L132.10,847.71 L132.60,848.38 L133.10,847.84 L133.60,848.34 L134.10,848.04 L134.60,847.30 L135.10,848.40 L135.60,848.07 L136.10,847.45 L136.60,848.18 L137.10,847.68 L137.60,847.64 L138.10,848.16 L138.60,847.62 L139.10,847.48 L139.60,848.12 L140.10,847.39 L140.60,847.65 L141.10,847.67 L141.60,847.65 L142.10,847.34 L142.60,847.69 L143.10,847.18 L143.60,847.60 L144.10,847.54 L144.60,847.47 L145.10,847.74 L145.60,847.79 L146.10,847.61 L146.60,847.37 L147.10,847.28 L147.60,847.47 L148.10,847.24 L148.60,847.62 L149.10,847.19 L149.60,847.23 L150.10,847.30 L150.60,847.41 L151.10,847.41 L151.60,847.13 L152.10,847.48 L152.60,847.00 L153.10,847.53 L153.60,847.02 L154.10,847.31 L154.60,847.32 L155.10,846.96 L155.60,847.34 L156.10,847.43 L156.60,847.42 L157.10,847.31 L157.60,847.21 L158.10,847.25 L158.60,846.83 L159.10,847.26 L159.60,846.98 L160.10,846.97 L160.60,846.78 L161.10,846.86 L161.60,846.84 L162.10,846.95 L162.60,846.75 L163.10,846.61 L163.60,846.63 L164.10,846.55 L164.60,846.85 L165.10,846.72 L165.60,846.56 L166.10,847.01 L166.60,846.97 L167.10,847.00 L167.60,846.92 L168.10,846.60 L168.60,846.37 L169.10,846.36 L169.60,846.78 L170.10,846.61 L170.60,846.42 L171.10,846.53 L171.60,846.70 L172.10,846.46 L172.60,846.22 L173.10,846.23 L173.60,846.60 L174.10,846.40 L174.60,846.74 L175.10,846.44 L175.60,846.22 L176.10,846.50 L176.60,846.17 L177.10,846.39 L177.60,846.29 L178.10,846.43 L178.60,846.41 L179.10,846.55 L179.60,846.05 L180.10,846.45 L180.60,846.53 L181.10,846.21 L181.60,846.25 L182.10,846.22 L182.60,846.37 L183.10,845.95 L183.60,846.24 L184.10,846.43 L184.60,846.41 L185.10,846.31 L185.60,845.96 L186.10,846.32 L186.60,846.27 L187.10,846.12 L187.60,846.10 L188.10,846.35 L188.60,845.91 L189.10,846.40 L189.60,846.33 L190.10,846.36 L190.60,846.12 L191.10,846.15 L191.60,845.93 L192.10,845.94 L192.60,846.23 L193.10,846.08 L193.60,846.37 L194.10,846.08 L194.60,846.13 L195.10,846.10 L195.60,846.35 L196.10,846.01 L196.60,846.31 L197.10,846.01 L197.60,846.06 L198.10,846.38 L198.60,846.33 L199.10,846.56 L199.60,846.42 L200.10,846.54 L200.60,846.39 L201.10,846.27 L201.60,846.56 L202.10,846.14 L202.60,846.11 L203.10,846.46 L203.60,846.13 L204.10,846.18 L204.60,845.59 L205.10,843.79 L205.60,843.42 L206.10,844.45 L206.60,845.84 L207.10,846.70 L207.60,846.59 L208.10,846.79 L208.60,846.54 L209.10,846.36 L209.60,846.55 L210.10,846.39 L210.60,846.38 L211.10,846.46 L211.60,846.58 L212.10,846.83 L212.60,846.38 L213.10,846.05 L213.60,845.02 L214.10,844.69 L214.60,845.69 L215.10,846.64 L215.60,846.47 L216.10,846.76 L216.60,846.57 L217.10,847.06 L217.60,846.67 L218.10,847.08 L218.60,846.83 L219.10,846.91 L219.60,846.82 L220.10,846.84 L220.60,846.86 L221.10,847.23 L221.60,846.98 L222.10,847.32 L222.60,847.14 L223.10,847.07 L223.60,847.11 L224.10,846.91 L224.60,846.95 L225.10,846.93 L225.60,847.32 L226.10,847.13 L226.60,847.43 L227.10,846.99 L227.60,847.48 L228.10,847.12 L228.60,847.03 L229.10,847.38 L229.60,847.47 L230.10,847.11 L230.60,847.30 L231.10,847.60 L231.60,847.69 L232.10,847.47 L232.60,847.21 L233.10,847.38 L233.60,847.34 L234.10,847.23 L234.60,847.43 L235.10,847.75 L235.60,847.60 L236.10,847.76 L236.60,847.80 L237.10,847.72 L237.60,847.52 L238.10,847.69 L238.60,847.84 L239.10,847.43 L239.60,847.60 L240.10,847.68 L240.60,847.82 L241.10,847.93 L241.60,847.61 L242.10,847.52 L242.60,848.02 L243.10,847.72 L243.60,847.76 L244.10,847.52 L244.60,847.57 L245.10,847.96 L245.60,847.99 L246.10,848.00 L246.60,848.06 L247.10,847.60 L247.60,847.78 L248.10,848.17 L248.60,848.13 L249.10,847.95 L249.60,848.11 L250.10,847.69 L250.60,847.80 L251.10,848.07 L251.60,847.99 L252.10,847.76 L252.60,848.22 L253.10,848.10 L253.60,847.74 L254.10,848.10 L254.60,848.21 L255.10,848.15 L255.60,848.16 L256.10,848.25 L256.60,848.23 L257.10,847.89 L257.60,848.08 L258.10,848.10 L258.60,847.81 L259.10,848.30 L259.60,847.95 L260.10,848.22 L260.60,848.09 L261.10,848.33 L261.60,848.25 L262.10,847.98 L262.60,847.84 L263.10,847.98 L263.60,847.99 L264.10,847.87 L264.60,848.14 L265.10,847.97 L265.60,848.23 L266.10,847.98 L266.60,847.90 L267.10,848.19 L267.60,848.00 L268.10,848.35 L268.60,848.36 L269.10,847.84 L269.60,848.16 L270.10,848.26 L270.60,848.38 L271.10,848.29 L271.60,848.37 L272.10,848.02 L272.60,847.97 L273.10,848.32 L273.60,847.87 L274.10,848.03 L274.60,847.99 L275.10,848.41 L275.60,847.89 L276.10,848.41 L276.60,848.02 L277.10,848.18 L277.60,848.36 L278.10,848.22 L278.60,848.38 L279.10,848.41 L279.60,848.19 L280.10,848.04 L280.60,848.06 L281.10,848.38 L281.60,848.23 L282.10,847.97 L282.60,847.89 L283.10,847.89 L283.60,847.95 L284.10,848.02 L284.60,848.10 L285.10,847.97 L285.60,848.16 L286.10,848.11 L286.60,847.92 L287.10,848.29 L287.60,848.35 L288.10,848.17 L288.60,848.45 L289.10,848.38 L289.60,848.39 L290.10,847.96 L290.60,848.36 L291.10,848.25 L291.60,848.39 L292.10,848.29 L292.60,848.20 L293.10,847.94 L293.60,848.48 L294.10,848.43 L294.60,848.02 L295.10,848.07 L295.60,848.22 L296.10,848.22 L296.60,848.08 L297.10,848.11 L297.60,847.98 L298.10,848.17 L298.60,848.38 L299.10,848.46 L299.60,848.42 L300.10,848.12 L300.60,848.23 L301.10,848.27 L301.60,848.46 L302.10,848.44 L302.60,848.12 L303.10,848.16 L303.60,848.37 L304.10,847.94 L304.60,848.21 L305.10,848.03 L305.60,848.04 L306.10,848.17 L306.60,848.15 L307.10,848.05 L307.60,848.43 L308.10,848.00 L308.60,848.10 L309.10,848.37 L309.60,848.21 L310.10,847.93 L310.60,848.50 L311.10,848.20 L311.60,848.01 L312.10,847.92 L312.60,848.19 L313.10,848.32 L313.60,848.49 L314.10,847.97 L314.60,848.14 L315.10,848.09 L315.60,848.05 L316.10,848.14 L316.60,847.99 L317.10,848.39 L317.60,848.27 L318.10,848.01 L318.60,848.42 L319.10,848.29 L319.60,848.23 L320.10,847.99 L320.60,847.99 L321.10,848.36 L321.60,848.33 L322.10,848.15 L322.60,847.93 L323.10,848.23 L323.60,848.14 L324.10,847.78 L324.60,847.83 L325.10,847.61 L325.60,847.72 L326.10,847.84 L326.60,847.54 L327.10,847.69 L327.60,847.29 L328.10,847.68 L328.60,847.24 L329.10,847.18 L329.60,847.53 L330.10,847.55 L330.60,847.62 L331.10,847.24 L331.60,847.32 L332.10,847.43 L332.60,847.51 L333.10,847.60 L333.60,847.90 L334.10,847.56 L334.60,847.64 L335.10,847.66 L335.60,848.02 L336.10,847.76 L336.60,847.86 L337.10,847.99 L337.60,848.09 L338.10,847.86 L338.60,848.05 L339.10,848.16 L339.60,848.07 L340.10,848.26 L340.60,848.40 L341.10,848.01 L341.60,848.39 L342.10,848.12 L342.60,848.44 L343.10,848.36 L343.60,848.07 L344.10,848.25 L344.60,848.36 L345.10,847.97 L345.60,847.92 L346.10,848.44 L346.60,848.27 L347.10,848.23 L347.60,848.37 L348.10,848.14 L348.60,848.16 L349.10,847.98 L349.60,848.17 L350.10,848.42 L350.60,848.25 L351.10,848.36 L351.60,848.36 L352.10,848.32 L352.60,847.98 L353.10,848.26 L353.60,848.16 L354.10,847.93 L354.60,848.04 L355.10,848.26 L355.60,848.48 L356.10,848.38 L356.60,848.45 L357.10,848.09 L357.60,848.10 L358.10,847.94 L358.60,848.02 L359.10,848.00 L359.60,848.04 L360.10,847.91 L360.60,848.24 L361.10,848.19 L361.60,848.20 L362.10,848.10 L362.60,848.29 L363.10,848.23 L363.60,848.22 L364.10,848.19 L364.60,848.27 L365.10,848.18 L365.60,848.12 L366.10,848.26 L366.60,847.91 L367.10,847.96 L367.60,848.30 L368.10,848.00 L368.60,848.16 L369.10,848.16 L369.60,848.18 L370.10,848.14 L370.60,848.30 L371.10,848.15 L371.60,847.91 L372.10,848.25 L372.60,848.15 L373.10,847.96 L373.60,848.20 L374.10,848.14 L374.60,848.12 L375.10,848.20 L375.60,848.17 L376.10,847.95 L376.60,848.20 L377.10,848.00 L377.60,848.07 L378.10,848.24 L378.60,848.13 L379.10,848.16 L379.60,848.28 L380.10,848.06 L380.60,848.32 L381.10,848.16 L381.60,848.32 L382.10,848.00 L382.60,848.29 L383.10,848.17 L383.60,847.98 L384.10,848.29 L384.60,848.02 L385.10,848.23 L385.60,847.91 L386.10,848.05 L386.60,848.46 L387.10,848.42 L387.60,848.23 L388.10,848.21 L388.60,848.05 L389.10,848.49 L389.60,848.14 L390.10,848.46 L390.60,848.47 L391.10,848.12 L391.60,848.03 L392.10,848.28 L392.60,847.99 L393.10,848.01 L393.60,847.92 L394.10,848.05 L394.60,848.10 L395.10,848.41 L395.60,847.95 L396.10,848.35 L396.60,848.07 L397.10,848.48 L397.60,848.43 L398.10,848.19 L398.60,848.31 L399.10,848.03 L399.60,848.36 L400.10,848.34 L400.60,847.94 L401.10,848.37 L401.60,847.98 L402.10,848.30 L402.60,848.42 L403.10,848.20 L403.60,848.23 L404.10,848.26 L404.60,848.21 L405.10,848.39 L405.60,847.90 L406.10,848.31 L406.60,848.43 L407.10,848.01 L407.60,848.13 L408.10,848.29 L408.60,848.19 L409.10,848.06 L409.60,848.01 L410.10,848.13 L410.60,847.93 L411.10,848.38 L411.60,848.00 L412.10,848.41 L412.60,848.25 L413.10,848.39 L413.60,847.93 L414.10,848.27 L414.60,848.42 L415.10,848.31 L415.60,848.42 L416.10,848.28 L416.60,847.99 L417.10,848.23 L417.60,848.19 L418.10,848.04 L418.60,848.50 L419.10,847.90 L419.60,848.19 L420.10,848.03 L420.60,848.31 L421.10,848.46 L421.60,848.19 L422.10,848.49 L422.60,848.36 L423.10,847.92 L423.60,848.20 L424.10,847.96 L424.60,848.11 L425.10,847.94 L425.60,848.35 L426.10,847.94 L426.60,848.27 L427.10,848.02 L427.60,848.02 L428.10,848.42 L428.60,848.22 L429.10,848.39 L429.60,848.39 L430.10,847.90 L430.60,848.49 L431.10,848.18 L431.60,848.03" fill="none" stroke="#222" stroke-width="1.2"/>
<path d="M119.2,766.5 L119.8,753.5 L120.4,766.5" fill="none" stroke="#888" stroke-width="0.7"/>
<path d="M208.4,766 L209.8,711.5 L210.4,711.5 L211.8,766" fill="none" stroke="#9a9a9a" stroke-width="0.8"/>
<path d="M209.3,758 L209.9,728 M210.9,758 L210.3,728" fill="none" stroke="#777" stroke-width="0.8"/>
<path d="M209.2,846 L210,837 L210.8,846" fill="none" stroke="#999" stroke-width="0.8"/>
<rect x="202.3" y="677.8" width="16.8" height="208" fill="none" stroke="#111" stroke-width="1.6"/>
<text x="392.60" y="715.40" font-family="Liberation Serif" font-size="17" text-anchor="middle" fill="#111" textLength="48.5" lengthAdjust="spacingAndGlyphs" stroke="#111" stroke-width="0.35">GVHD</text>
<text x="392.80" y="795.60" font-family="Liberation Serif" font-size="17" text-anchor="middle" fill="#111" textLength="50.8" lengthAdjust="spacingAndGlyphs" stroke="#111" stroke-width="0.35">control</text>
<rect x="433.2" y="732.5" width="13.5" height="7" fill="#fff" stroke="#aaa" stroke-width="0.6"/>
<text x="439.80" y="737.40" font-family="Liberation Sans" font-size="3.6" text-anchor="middle" fill="#333" textLength="9.5" lengthAdjust="spacingAndGlyphs" >GVHD</text>
<rect x="433.2" y="815.5" width="13.5" height="7" fill="#fff" stroke="#aaa" stroke-width="0.6"/>
<text x="439.80" y="820.40" font-family="Liberation Sans" font-size="3.6" text-anchor="middle" fill="#333" textLength="9.5" lengthAdjust="spacingAndGlyphs" >control</text>
</svg>
</body></html>
